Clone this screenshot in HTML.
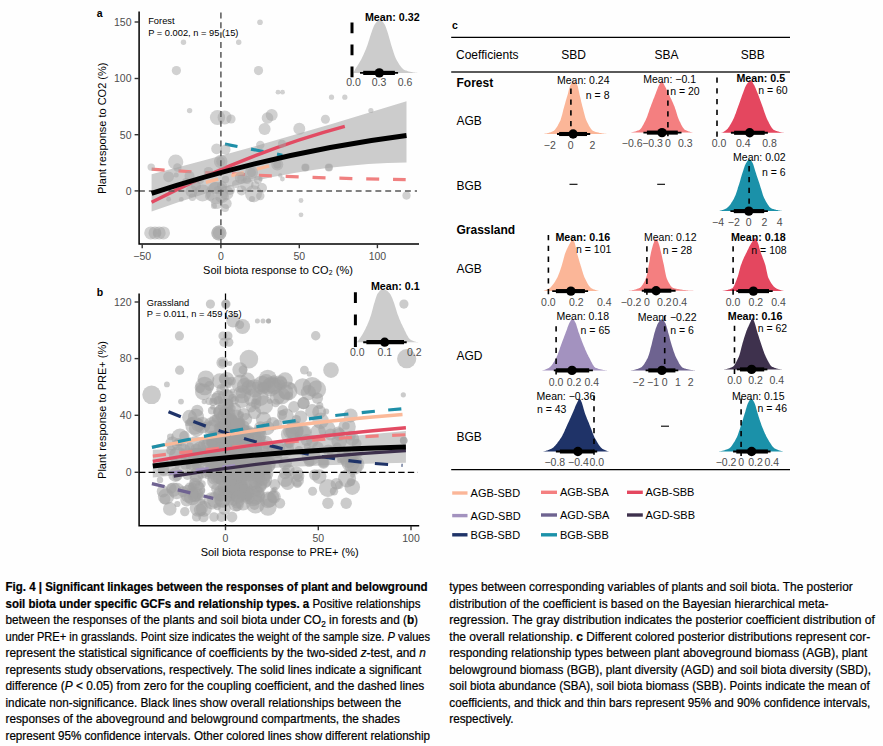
<!DOCTYPE html>
<html><head><meta charset="utf-8"><title>Fig. 4</title>
<style>
html,body{margin:0;padding:0;background:#fff;}
body{width:883px;height:746px;overflow:hidden;font-family:"Liberation Sans", sans-serif;}
svg{display:block;}
text{font-family:"Liberation Sans", sans-serif;}
.tk{font-size:10.5px;fill:#4d4d4d;}
.ax{font-size:11px;fill:#000;}
.an{font-size:9.3px;fill:#000;}
.pl{font-size:10.5px;font-weight:bold;fill:#000;}
.mn{font-size:10.5px;fill:#000;}
.mb{font-size:10.7px;fill:#000;font-weight:bold;}
.row{font-size:12px;fill:#000;}
.rowb{font-size:12px;fill:#000;font-weight:bold;}
.lg{font-size:11px;fill:#000;}
</style></head><body>
<svg width="883" height="746" viewBox="0 0 883 746">
<rect x="0" y="0" width="883" height="746" fill="#fefefe"/>

<g id="panelA">
<path d="M151.6,174.3 Q279,141.1 406.5,101.3 L406.5,162.4 Q279,164.3 151.6,211.6 Z" fill="#cccccc"/>
<path d="M151.6,169.2 Q279,177.8 405.7,179.6" fill="none" stroke="#F08080" stroke-width="3.2" stroke-dasharray="13 13.85"/>
<path d="M205.9,182.3 L270.4,165.7" fill="none" stroke="#FBB999" stroke-width="3.3" stroke-dasharray="12.7 13.6"/>
<path d="M225,144.1 L282.4,155.2" fill="none" stroke="#1E8FA8" stroke-width="3.2" stroke-dasharray="12.7 13.8"/>
<path d="M151.6,202.3 Q248.2,152.4 344.8,126.4" fill="none" stroke="#E24B63" stroke-width="3.4"/>
<g fill="#a4a4a4" fill-opacity="0.5">
<circle cx="260.0" cy="22.2" r="2.8"/>
<circle cx="183.5" cy="42.3" r="2.7"/>
<circle cx="238.7" cy="42.3" r="2.7"/>
<circle cx="176.4" cy="70.6" r="4.6"/>
<circle cx="258.5" cy="70.6" r="4.6"/>
<circle cx="278.0" cy="92.2" r="2.4"/>
<circle cx="282.5" cy="92.2" r="2.4"/>
<circle cx="189.6" cy="110.6" r="2.7"/>
<circle cx="217.5" cy="117.5" r="7.6"/>
<circle cx="224.6" cy="117.5" r="7.0"/>
<circle cx="231.0" cy="119.0" r="4.6"/>
<circle cx="271.7" cy="115.0" r="6.0"/>
<circle cx="267.5" cy="118.0" r="5.8"/>
<circle cx="264.6" cy="129.0" r="6.0"/>
<circle cx="299.3" cy="128.8" r="6.0"/>
<circle cx="325.4" cy="119.2" r="4.5"/>
<circle cx="331.5" cy="97.2" r="2.6"/>
<circle cx="344.8" cy="97.2" r="2.6"/>
<circle cx="370.9" cy="110.5" r="2.6"/>
<circle cx="151.2" cy="167.1" r="3.7"/>
<circle cx="175.7" cy="162.0" r="7.6"/>
<circle cx="177.4" cy="167.5" r="4.2"/>
<circle cx="168.6" cy="176.8" r="5.4"/>
<circle cx="176.2" cy="175.1" r="2.5"/>
<circle cx="189.5" cy="176.0" r="5.0"/>
<circle cx="216.6" cy="148.8" r="5.4"/>
<circle cx="225.5" cy="149.6" r="5.0"/>
<circle cx="220.7" cy="161.5" r="6.8"/>
<circle cx="220.7" cy="161.5" r="4.5"/>
<circle cx="208.5" cy="171.7" r="4.8"/>
<circle cx="260.3" cy="145.0" r="4.2"/>
<circle cx="282.0" cy="143.7" r="4.0"/>
<circle cx="277.3" cy="164.4" r="6.0"/>
<circle cx="277.3" cy="164.4" r="4.0"/>
<circle cx="251.5" cy="172.6" r="6.5"/>
<circle cx="251.5" cy="172.6" r="4.5"/>
<circle cx="240.8" cy="177.7" r="6.0"/>
<circle cx="240.8" cy="178.0" r="3.5"/>
<circle cx="260.6" cy="179.0" r="2.2"/>
<circle cx="280.3" cy="175.4" r="2.2"/>
<circle cx="282.4" cy="179.0" r="2.4"/>
<circle cx="225.5" cy="179.4" r="3.7"/>
<circle cx="305.4" cy="167.5" r="4.1"/>
<circle cx="305.4" cy="167.5" r="3.5"/>
<circle cx="328.9" cy="167.5" r="4.1"/>
<circle cx="328.9" cy="167.5" r="3.5"/>
<circle cx="301.0" cy="200.5" r="2.4"/>
<circle cx="301.0" cy="214.8" r="2.4"/>
<circle cx="406.5" cy="195.6" r="4.1"/>
<circle cx="217.0" cy="193.0" r="11.0"/>
<circle cx="226.5" cy="193.0" r="7.0"/>
<circle cx="202.5" cy="193.0" r="8.5"/>
<circle cx="191.5" cy="191.2" r="6.0"/>
<circle cx="192.4" cy="197.2" r="3.7"/>
<circle cx="181.3" cy="199.4" r="2.4"/>
<circle cx="168.6" cy="199.2" r="2.4"/>
<circle cx="217.0" cy="203.1" r="6.0"/>
<circle cx="226.3" cy="203.5" r="5.4"/>
<circle cx="246.7" cy="184.5" r="6.8"/>
<circle cx="253.5" cy="193.8" r="8.5"/>
<circle cx="241.6" cy="190.4" r="5.0"/>
<circle cx="260.3" cy="196.0" r="4.2"/>
<circle cx="255.2" cy="185.3" r="4.2"/>
<circle cx="215.0" cy="188.0" r="6.0"/>
<circle cx="222.0" cy="196.0" r="7.0"/>
<circle cx="210.0" cy="196.0" r="5.0"/>
<circle cx="218.0" cy="190.0" r="4.0"/>
<circle cx="222.0" cy="186.0" r="5.0"/>
<circle cx="230.0" cy="190.0" r="5.0"/>
<circle cx="247.0" cy="180.0" r="4.0"/>
<circle cx="236.0" cy="184.0" r="4.0"/>
<circle cx="262.0" cy="188.0" r="5.0"/>
<circle cx="252.0" cy="199.0" r="3.0"/>
<circle cx="258.0" cy="180.0" r="4.0"/>
<circle cx="196.0" cy="186.0" r="5.0"/>
<circle cx="200.0" cy="180.0" r="4.0"/>
<circle cx="186.0" cy="182.0" r="4.0"/>
<circle cx="225.0" cy="208.0" r="4.0"/>
<circle cx="214.0" cy="206.0" r="3.0"/>
<circle cx="150.7" cy="232.9" r="6.5"/>
<circle cx="155.0" cy="232.9" r="6.5"/>
<circle cx="159.2" cy="232.9" r="6.5"/>
<circle cx="163.5" cy="232.9" r="6.5"/>
<circle cx="157.0" cy="232.9" r="4.0"/>
<circle cx="218.9" cy="233.0" r="7.6"/>
<circle cx="218.9" cy="233.0" r="7.6"/>
<circle cx="218.9" cy="233.0" r="6.0"/>
</g>
<path d="M139,190.9 H417" stroke="#585858" stroke-width="1.5" stroke-dasharray="5.9 3.95" fill="none"/>
<path d="M220.9,12.5 V243.5" stroke="#585858" stroke-width="1.5" stroke-dasharray="5.9 3.95" fill="none"/>
<path d="M151.6,193.3 Q279,151.8 406.5,135.5" fill="none" stroke="#000" stroke-width="5"/>
<path d="M139.1,11.5 V243.9 H419" fill="none" stroke="#000" stroke-width="1.5"/>
<path d="M134.6,22 H139" stroke="#333" stroke-width="1.4"/>
<text x="131.5" y="25.8" class="tk" text-anchor="end" >150</text>
<path d="M134.6,78.5 H139" stroke="#333" stroke-width="1.4"/>
<text x="131.5" y="82.3" class="tk" text-anchor="end" >100</text>
<path d="M134.6,134.7 H139" stroke="#333" stroke-width="1.4"/>
<text x="131.5" y="138.5" class="tk" text-anchor="end" >50</text>
<path d="M134.6,190.9 H139" stroke="#333" stroke-width="1.4"/>
<text x="131.5" y="194.7" class="tk" text-anchor="end" >0</text>
<path d="M142.2,244 V248.2" stroke="#333" stroke-width="1.4"/>
<text x="142.2" y="260.0" class="tk" text-anchor="middle" >−50</text>
<path d="M220.9,244 V248.2" stroke="#333" stroke-width="1.4"/>
<text x="220.9" y="260.0" class="tk" text-anchor="middle" >0</text>
<path d="M299.3,244 V248.2" stroke="#333" stroke-width="1.4"/>
<text x="299.3" y="260.0" class="tk" text-anchor="middle" >50</text>
<path d="M377.4,244 V248.2" stroke="#333" stroke-width="1.4"/>
<text x="377.4" y="260.0" class="tk" text-anchor="middle" >100</text>
<text x="278.0" y="274.2" class="ax" text-anchor="middle" >Soil biota response to CO₂ (%)</text>
<text class="ax" text-anchor="middle" transform="translate(106,128.3) rotate(-90)">Plant response to CO2 (%)</text>
<text x="148.2" y="24.2" class="an" text-anchor="start" >Forest</text>
<text x="148.2" y="35.6" class="an" text-anchor="start" >P = 0.002, n = 95 (15)</text>
<text x="96.8" y="17.4" class="pl" text-anchor="start" >a</text>
</g>
<g id="insetA">
<path d="M353.4,72.9 L353.4,72.9 L354.0,71.6 L354.6,70.4 L355.2,69.3 L355.8,68.3 L356.4,67.3 L357.0,66.4 L357.6,65.4 L358.2,64.5 L358.8,63.6 L359.4,62.6 L360.0,61.6 L360.6,60.5 L361.2,59.4 L361.8,58.2 L362.4,57.0 L363.0,55.8 L363.6,54.5 L364.2,53.1 L364.8,51.8 L365.4,50.3 L366.0,48.9 L366.6,47.3 L367.2,45.8 L367.8,44.0 L368.4,42.1 L369.0,40.2 L369.6,38.2 L370.2,36.3 L370.8,34.4 L371.4,32.7 L372.0,31.0 L372.6,29.3 L373.2,27.7 L373.8,26.2 L374.4,24.9 L375.0,24.0 L375.6,23.2 L376.2,22.5 L376.8,21.8 L377.4,21.1 L378.0,20.6 L378.6,20.2 L379.2,19.9 L379.8,19.8 L380.4,19.9 L381.0,20.2 L381.6,20.6 L382.2,21.2 L382.8,21.9 L383.4,22.6 L384.0,23.5 L384.6,24.3 L385.2,25.5 L385.8,27.0 L386.4,28.7 L387.0,30.5 L387.6,32.3 L388.2,34.2 L388.8,36.2 L389.4,38.4 L390.0,40.6 L390.6,42.8 L391.2,44.9 L391.8,46.8 L392.4,48.7 L393.0,50.6 L393.6,52.5 L394.2,54.3 L394.8,55.9 L395.4,57.5 L396.0,58.8 L396.6,59.9 L397.2,61.0 L397.8,62.0 L398.4,63.0 L399.0,64.0 L399.6,64.9 L400.2,65.7 L400.8,66.6 L401.4,67.3 L402.0,68.0 L402.6,68.6 L403.2,69.2 L403.8,69.6 L404.4,70.0 L405.0,70.2 L405.6,70.4 L406.2,70.6 L406.8,70.8 L407.4,71.0 L408.0,71.2 L408.6,71.4 L409.2,71.5 L409.8,71.7 L410.4,71.8 L411.0,72.0 L411.6,72.1 L412.2,72.2 L412.8,72.3 L413.4,72.5 L414.0,72.5 L414.6,72.6 L415.2,72.7 L415.8,72.8 L416.4,72.8 L417.0,72.8 L417.6,72.9 L418.2,72.9 L418.9,72.9 Z" fill="#cccccc"/>
<path d="M352,22.5 V77.7" stroke="#000" stroke-width="3" stroke-dasharray="10.7 11.3" fill="none"/>
<path d="M360,72.9 H398.1" stroke="#000" stroke-width="1.9"/>
<path d="M363.2,72.9 H394.9" stroke="#000" stroke-width="4.2"/>
<circle cx="379.3" cy="72.9" r="4.7" fill="#000"/>
<text x="353.6" y="86.0" class="tk" text-anchor="middle" >0.0</text>
<text x="379.1" y="86.0" class="tk" text-anchor="middle" >0.3</text>
<text x="405.0" y="86.0" class="tk" text-anchor="middle" >0.6</text>
<text x="419.6" y="21.2" class="mb" text-anchor="end" >Mean: 0.32</text>
</g>
<g id="panelB">
<path d="M152.8,449.7 Q225,448 405.9,431 L405.9,462.8 Q260,466 152.8,477.5 Z" fill="#cdcdcd"/>
<g fill="#a0a0a0" fill-opacity="0.55">
<circle cx="403.9" cy="304.1" r="4.6"/>
<circle cx="210.4" cy="304.1" r="4.6"/>
<circle cx="225.8" cy="304.1" r="4.8"/>
<circle cx="225.8" cy="304.1" r="4.0"/>
<circle cx="233.1" cy="320.6" r="6.8"/>
<circle cx="242.5" cy="326.5" r="7.6"/>
<circle cx="240.0" cy="324.8" r="4.2"/>
<circle cx="257.4" cy="321.1" r="2.5"/>
<circle cx="263.0" cy="321.1" r="2.5"/>
<circle cx="268.5" cy="321.1" r="2.5"/>
<circle cx="268.5" cy="321.1" r="2.5"/>
<circle cx="179.4" cy="335.9" r="4.6"/>
<circle cx="222.9" cy="335.9" r="4.5"/>
<circle cx="228.0" cy="335.9" r="4.5"/>
<circle cx="223.8" cy="342.3" r="4.5"/>
<circle cx="228.9" cy="342.3" r="4.5"/>
<circle cx="248.9" cy="359.1" r="9.3"/>
<circle cx="222.4" cy="362.7" r="6.0"/>
<circle cx="222.4" cy="362.7" r="4.0"/>
<circle cx="229.7" cy="363.4" r="2.5"/>
<circle cx="179.6" cy="370.2" r="4.6"/>
<circle cx="239.9" cy="369.8" r="7.6"/>
<circle cx="243.0" cy="369.8" r="4.4"/>
<circle cx="166.9" cy="384.4" r="2.9"/>
<circle cx="151.6" cy="394.8" r="9.3"/>
<circle cx="181.0" cy="401.6" r="2.9"/>
<circle cx="204.6" cy="386.0" r="9.3"/>
<circle cx="209.3" cy="386.0" r="5.0"/>
<circle cx="262.0" cy="385.1" r="9.3"/>
<circle cx="262.0" cy="387.0" r="5.0"/>
<circle cx="273.9" cy="386.0" r="8.5"/>
<circle cx="280.7" cy="383.4" r="6.8"/>
<circle cx="280.7" cy="383.4" r="4.0"/>
<circle cx="285.8" cy="392.0" r="7.6"/>
<circle cx="204.2" cy="401.6" r="2.6"/>
<circle cx="216.1" cy="398.7" r="6.0"/>
<circle cx="254.4" cy="401.3" r="3.0"/>
<circle cx="269.7" cy="401.3" r="2.6"/>
<circle cx="275.6" cy="403.0" r="4.3"/>
<circle cx="315.7" cy="335.7" r="4.7"/>
<circle cx="406.7" cy="358.7" r="9.6"/>
<circle cx="331.0" cy="370.1" r="7.8"/>
<circle cx="304.4" cy="370.1" r="4.4"/>
<circle cx="309.3" cy="373.9" r="2.6"/>
<circle cx="302.6" cy="387.0" r="8.7"/>
<circle cx="312.2" cy="386.6" r="9.6"/>
<circle cx="287.8" cy="391.0" r="9.6"/>
<circle cx="288.7" cy="395.9" r="4.4"/>
<circle cx="280.0" cy="382.3" r="7.0"/>
<circle cx="403.3" cy="394.8" r="2.6"/>
<circle cx="303.5" cy="403.2" r="6.1"/>
<circle cx="303.5" cy="403.2" r="6.1"/>
<circle cx="312.2" cy="411.0" r="7.0"/>
<circle cx="319.2" cy="411.9" r="7.0"/>
<circle cx="326.2" cy="411.5" r="3.0"/>
<circle cx="286.1" cy="416.2" r="7.8"/>
<circle cx="350.6" cy="415.4" r="7.0"/>
<circle cx="327.0" cy="429.3" r="8.7"/>
<circle cx="330.5" cy="434.5" r="6.1"/>
<circle cx="347.1" cy="426.7" r="8.7"/>
<circle cx="302.6" cy="432.8" r="7.8"/>
<circle cx="290.5" cy="434.5" r="9.6"/>
<circle cx="339.2" cy="441.5" r="7.8"/>
<circle cx="352.3" cy="438.9" r="7.0"/>
<circle cx="403.7" cy="440.6" r="3.8"/>
<circle cx="403.7" cy="440.6" r="3.8"/>
<circle cx="323.6" cy="462.7" r="6.0"/>
<circle cx="323.6" cy="462.7" r="5.0"/>
<circle cx="309.3" cy="461.8" r="5.2"/>
<circle cx="355.4" cy="464.4" r="9.0"/>
<circle cx="319.2" cy="476.6" r="7.3"/>
<circle cx="327.9" cy="487.9" r="9.0"/>
<circle cx="347.1" cy="478.4" r="9.0"/>
<circle cx="352.3" cy="487.1" r="7.8"/>
<circle cx="351.0" cy="482.0" r="4.0"/>
<circle cx="297.4" cy="483.6" r="4.4"/>
<circle cx="285.2" cy="479.2" r="7.8"/>
<circle cx="327.9" cy="503.3" r="5.7"/>
<circle cx="346.2" cy="503.3" r="5.7"/>
<circle cx="280.0" cy="503.3" r="5.2"/>
<circle cx="227.1" cy="464.4" r="4.2"/>
<circle cx="214.3" cy="439.7" r="3.2"/>
<circle cx="251.7" cy="455.5" r="2.5"/>
<circle cx="200.3" cy="476.1" r="2.8"/>
<circle cx="199.9" cy="387.7" r="5.2"/>
<circle cx="237.8" cy="445.4" r="7.8"/>
<circle cx="237.9" cy="460.4" r="6.4"/>
<circle cx="242.6" cy="487.7" r="5.1"/>
<circle cx="225.5" cy="443.4" r="2.7"/>
<circle cx="223.5" cy="414.5" r="5.8"/>
<circle cx="216.6" cy="455.3" r="8.8"/>
<circle cx="232.9" cy="491.4" r="6.6"/>
<circle cx="230.0" cy="419.2" r="7.3"/>
<circle cx="204.2" cy="475.1" r="3.2"/>
<circle cx="259.4" cy="459.3" r="8.5"/>
<circle cx="243.7" cy="426.2" r="5.8"/>
<circle cx="213.6" cy="428.9" r="9.5"/>
<circle cx="204.3" cy="455.1" r="3.5"/>
<circle cx="238.8" cy="422.0" r="6.0"/>
<circle cx="252.9" cy="452.3" r="2.6"/>
<circle cx="262.3" cy="468.0" r="2.8"/>
<circle cx="202.2" cy="490.6" r="3.1"/>
<circle cx="194.5" cy="425.5" r="9.2"/>
<circle cx="228.5" cy="481.7" r="6.7"/>
<circle cx="242.5" cy="441.9" r="2.8"/>
<circle cx="234.3" cy="486.0" r="4.8"/>
<circle cx="251.8" cy="447.9" r="5.7"/>
<circle cx="259.8" cy="431.9" r="5.9"/>
<circle cx="229.2" cy="436.9" r="9.0"/>
<circle cx="256.0" cy="403.9" r="5.2"/>
<circle cx="253.4" cy="476.2" r="2.5"/>
<circle cx="234.9" cy="466.6" r="4.2"/>
<circle cx="242.9" cy="447.0" r="3.0"/>
<circle cx="270.2" cy="458.0" r="4.4"/>
<circle cx="231.8" cy="478.4" r="4.4"/>
<circle cx="210.6" cy="455.3" r="2.6"/>
<circle cx="223.8" cy="469.3" r="7.4"/>
<circle cx="278.2" cy="459.1" r="4.4"/>
<circle cx="227.7" cy="444.9" r="6.9"/>
<circle cx="251.2" cy="407.3" r="5.1"/>
<circle cx="248.3" cy="497.7" r="6.3"/>
<circle cx="225.5" cy="468.2" r="9.6"/>
<circle cx="252.7" cy="397.8" r="8.9"/>
<circle cx="235.3" cy="487.6" r="4.1"/>
<circle cx="247.1" cy="451.8" r="6.1"/>
<circle cx="251.9" cy="437.0" r="9.6"/>
<circle cx="249.4" cy="438.0" r="4.7"/>
<circle cx="236.2" cy="468.7" r="6.7"/>
<circle cx="243.7" cy="414.3" r="6.4"/>
<circle cx="256.1" cy="472.4" r="9.0"/>
<circle cx="232.0" cy="408.2" r="3.7"/>
<circle cx="215.1" cy="500.1" r="8.0"/>
<circle cx="194.5" cy="494.8" r="7.4"/>
<circle cx="239.6" cy="460.9" r="9.1"/>
<circle cx="253.6" cy="497.6" r="8.7"/>
<circle cx="217.9" cy="481.6" r="2.4"/>
<circle cx="259.1" cy="438.0" r="6.8"/>
<circle cx="196.8" cy="474.8" r="7.5"/>
<circle cx="231.8" cy="475.3" r="5.8"/>
<circle cx="230.8" cy="482.4" r="3.9"/>
<circle cx="219.2" cy="476.9" r="6.7"/>
<circle cx="194.7" cy="483.3" r="5.6"/>
<circle cx="228.3" cy="446.0" r="4.5"/>
<circle cx="266.0" cy="448.5" r="3.2"/>
<circle cx="228.2" cy="404.2" r="5.6"/>
<circle cx="200.7" cy="426.7" r="3.3"/>
<circle cx="232.1" cy="474.4" r="8.3"/>
<circle cx="202.3" cy="425.3" r="8.2"/>
<circle cx="214.9" cy="420.8" r="6.1"/>
<circle cx="209.6" cy="459.4" r="6.8"/>
<circle cx="219.8" cy="381.0" r="7.7"/>
<circle cx="189.6" cy="417.2" r="7.4"/>
<circle cx="246.8" cy="472.4" r="2.8"/>
<circle cx="257.3" cy="469.4" r="9.3"/>
<circle cx="249.0" cy="491.5" r="4.4"/>
<circle cx="268.9" cy="387.2" r="6.9"/>
<circle cx="214.4" cy="470.4" r="9.2"/>
<circle cx="242.7" cy="477.7" r="5.0"/>
<circle cx="237.6" cy="475.1" r="7.1"/>
<circle cx="212.7" cy="434.8" r="2.9"/>
<circle cx="215.8" cy="418.4" r="4.0"/>
<circle cx="243.8" cy="463.3" r="3.6"/>
<circle cx="230.7" cy="464.8" r="6.7"/>
<circle cx="238.2" cy="423.1" r="3.9"/>
<circle cx="205.4" cy="424.3" r="2.5"/>
<circle cx="224.4" cy="413.9" r="3.9"/>
<circle cx="209.3" cy="401.3" r="3.8"/>
<circle cx="266.6" cy="474.5" r="5.0"/>
<circle cx="191.0" cy="421.6" r="4.4"/>
<circle cx="218.2" cy="442.8" r="2.7"/>
<circle cx="244.1" cy="454.1" r="4.9"/>
<circle cx="232.9" cy="418.9" r="4.5"/>
<circle cx="229.9" cy="452.3" r="4.0"/>
<circle cx="229.4" cy="404.2" r="3.2"/>
<circle cx="240.3" cy="440.6" r="8.1"/>
<circle cx="196.0" cy="449.0" r="5.5"/>
<circle cx="212.2" cy="500.7" r="8.7"/>
<circle cx="217.5" cy="464.7" r="2.6"/>
<circle cx="260.2" cy="471.0" r="4.5"/>
<circle cx="263.4" cy="480.0" r="8.7"/>
<circle cx="229.2" cy="471.8" r="5.4"/>
<circle cx="243.3" cy="477.9" r="6.9"/>
<circle cx="255.6" cy="439.7" r="6.9"/>
<circle cx="225.5" cy="476.7" r="3.0"/>
<circle cx="209.8" cy="453.4" r="5.5"/>
<circle cx="246.9" cy="447.8" r="3.0"/>
<circle cx="235.9" cy="448.9" r="4.7"/>
<circle cx="212.0" cy="425.6" r="8.7"/>
<circle cx="223.7" cy="378.7" r="5.0"/>
<circle cx="242.8" cy="445.1" r="8.7"/>
<circle cx="266.7" cy="464.5" r="8.6"/>
<circle cx="228.5" cy="385.1" r="3.2"/>
<circle cx="195.9" cy="445.2" r="9.1"/>
<circle cx="197.3" cy="410.8" r="6.1"/>
<circle cx="232.6" cy="455.5" r="3.0"/>
<circle cx="260.6" cy="486.6" r="5.9"/>
<circle cx="211.9" cy="410.4" r="4.0"/>
<circle cx="241.3" cy="393.0" r="5.6"/>
<circle cx="228.2" cy="436.4" r="7.7"/>
<circle cx="245.3" cy="459.0" r="7.5"/>
<circle cx="213.4" cy="448.3" r="6.1"/>
<circle cx="234.8" cy="400.2" r="4.2"/>
<circle cx="240.7" cy="467.8" r="7.8"/>
<circle cx="229.3" cy="444.8" r="2.8"/>
<circle cx="218.3" cy="401.0" r="4.9"/>
<circle cx="210.9" cy="443.1" r="4.4"/>
<circle cx="241.9" cy="433.0" r="9.4"/>
<circle cx="252.9" cy="451.1" r="9.5"/>
<circle cx="217.7" cy="455.4" r="6.8"/>
<circle cx="238.1" cy="490.5" r="3.2"/>
<circle cx="241.7" cy="441.7" r="8.3"/>
<circle cx="254.4" cy="412.4" r="6.7"/>
<circle cx="227.8" cy="447.7" r="3.2"/>
<circle cx="216.7" cy="455.8" r="3.0"/>
<circle cx="217.3" cy="506.6" r="3.6"/>
<circle cx="237.1" cy="432.4" r="8.9"/>
<circle cx="244.8" cy="430.7" r="5.2"/>
<circle cx="257.3" cy="446.7" r="5.3"/>
<circle cx="231.1" cy="457.6" r="3.7"/>
<circle cx="232.1" cy="473.7" r="4.6"/>
<circle cx="198.8" cy="507.7" r="9.1"/>
<circle cx="203.4" cy="391.9" r="8.4"/>
<circle cx="230.8" cy="436.4" r="8.2"/>
<circle cx="232.5" cy="398.1" r="4.1"/>
<circle cx="240.9" cy="439.1" r="5.0"/>
<circle cx="222.8" cy="500.2" r="7.7"/>
<circle cx="223.0" cy="423.1" r="5.2"/>
<circle cx="237.6" cy="464.5" r="6.7"/>
<circle cx="218.6" cy="447.4" r="9.6"/>
<circle cx="222.1" cy="452.8" r="2.5"/>
<circle cx="227.5" cy="459.4" r="4.8"/>
<circle cx="196.0" cy="416.9" r="8.1"/>
<circle cx="212.2" cy="468.3" r="5.0"/>
<circle cx="246.2" cy="457.4" r="7.3"/>
<circle cx="205.2" cy="446.0" r="7.6"/>
<circle cx="230.1" cy="472.5" r="5.3"/>
<circle cx="267.4" cy="428.1" r="7.1"/>
<circle cx="261.3" cy="457.8" r="8.2"/>
<circle cx="231.7" cy="446.7" r="6.8"/>
<circle cx="249.1" cy="387.5" r="7.6"/>
<circle cx="240.5" cy="459.5" r="6.0"/>
<circle cx="260.4" cy="427.5" r="6.3"/>
<circle cx="208.8" cy="458.4" r="3.7"/>
<circle cx="222.1" cy="424.1" r="2.8"/>
<circle cx="212.7" cy="407.2" r="2.5"/>
<circle cx="207.2" cy="440.1" r="4.7"/>
<circle cx="229.8" cy="444.1" r="5.4"/>
<circle cx="258.4" cy="434.5" r="8.2"/>
<circle cx="233.4" cy="472.5" r="8.8"/>
<circle cx="230.6" cy="453.7" r="6.0"/>
<circle cx="219.2" cy="459.6" r="6.8"/>
<circle cx="232.7" cy="455.9" r="5.3"/>
<circle cx="226.8" cy="426.4" r="8.9"/>
<circle cx="219.1" cy="446.3" r="7.8"/>
<circle cx="237.9" cy="424.7" r="6.3"/>
<circle cx="219.8" cy="447.6" r="5.3"/>
<circle cx="243.5" cy="474.0" r="6.9"/>
<circle cx="235.9" cy="455.6" r="3.0"/>
<circle cx="263.6" cy="404.9" r="9.6"/>
<circle cx="247.4" cy="434.3" r="3.9"/>
<circle cx="231.9" cy="438.3" r="5.1"/>
<circle cx="220.0" cy="468.7" r="2.4"/>
<circle cx="228.7" cy="478.1" r="7.3"/>
<circle cx="244.6" cy="441.8" r="6.5"/>
<circle cx="240.8" cy="414.5" r="3.2"/>
<circle cx="202.3" cy="501.7" r="3.0"/>
<circle cx="235.8" cy="441.9" r="6.4"/>
<circle cx="232.6" cy="437.3" r="2.5"/>
<circle cx="244.8" cy="434.4" r="9.3"/>
<circle cx="224.0" cy="470.0" r="8.6"/>
<circle cx="229.7" cy="500.8" r="4.8"/>
<circle cx="263.9" cy="448.4" r="8.6"/>
<circle cx="235.9" cy="444.4" r="5.4"/>
<circle cx="277.4" cy="424.4" r="4.8"/>
<circle cx="212.0" cy="463.9" r="7.5"/>
<circle cx="242.1" cy="394.3" r="9.0"/>
<circle cx="218.8" cy="428.1" r="5.1"/>
<circle cx="233.6" cy="433.5" r="3.6"/>
<circle cx="232.1" cy="459.4" r="3.3"/>
<circle cx="274.0" cy="379.5" r="4.3"/>
<circle cx="250.3" cy="469.7" r="8.2"/>
<circle cx="234.0" cy="482.1" r="6.0"/>
<circle cx="231.5" cy="381.1" r="4.4"/>
<circle cx="240.6" cy="423.1" r="5.1"/>
<circle cx="231.1" cy="424.4" r="4.7"/>
<circle cx="254.5" cy="505.0" r="5.0"/>
<circle cx="184.8" cy="511.6" r="4.7"/>
<circle cx="241.9" cy="400.8" r="7.3"/>
<circle cx="197.3" cy="456.9" r="9.4"/>
<circle cx="247.3" cy="454.1" r="2.7"/>
<circle cx="256.8" cy="439.4" r="8.0"/>
<circle cx="245.8" cy="419.3" r="6.3"/>
<circle cx="240.5" cy="441.6" r="5.9"/>
<circle cx="235.7" cy="478.9" r="2.7"/>
<circle cx="231.2" cy="493.0" r="4.6"/>
<circle cx="248.9" cy="449.2" r="4.6"/>
<circle cx="227.1" cy="468.2" r="8.4"/>
<circle cx="240.1" cy="453.1" r="5.7"/>
<circle cx="226.7" cy="435.6" r="3.5"/>
<circle cx="218.9" cy="461.9" r="6.9"/>
<circle cx="222.6" cy="487.6" r="5.2"/>
<circle cx="223.7" cy="464.0" r="7.5"/>
<circle cx="272.9" cy="449.7" r="6.5"/>
<circle cx="199.3" cy="486.1" r="4.5"/>
<circle cx="256.0" cy="451.0" r="6.7"/>
<circle cx="254.5" cy="472.2" r="5.5"/>
<circle cx="241.4" cy="469.0" r="6.8"/>
<circle cx="249.1" cy="471.9" r="9.5"/>
<circle cx="235.2" cy="463.7" r="9.5"/>
<circle cx="225.7" cy="448.2" r="8.0"/>
<circle cx="234.0" cy="410.1" r="7.4"/>
<circle cx="227.1" cy="413.7" r="6.5"/>
<circle cx="228.1" cy="418.8" r="5.2"/>
<circle cx="219.2" cy="435.8" r="2.8"/>
<circle cx="234.7" cy="452.5" r="7.1"/>
<circle cx="227.8" cy="423.8" r="5.7"/>
<circle cx="221.8" cy="416.7" r="5.7"/>
<circle cx="216.8" cy="465.1" r="5.3"/>
<circle cx="235.6" cy="447.7" r="4.7"/>
<circle cx="221.7" cy="446.2" r="4.3"/>
<circle cx="231.1" cy="469.1" r="3.1"/>
<circle cx="224.0" cy="439.3" r="4.2"/>
<circle cx="223.7" cy="439.1" r="5.1"/>
<circle cx="229.6" cy="433.8" r="9.6"/>
<circle cx="208.5" cy="444.9" r="7.4"/>
<circle cx="232.0" cy="454.1" r="7.4"/>
<circle cx="230.5" cy="421.6" r="7.4"/>
<circle cx="210.3" cy="438.8" r="4.8"/>
<circle cx="219.9" cy="438.7" r="2.7"/>
<circle cx="232.0" cy="498.1" r="3.2"/>
<circle cx="221.7" cy="412.9" r="8.4"/>
<circle cx="213.3" cy="402.1" r="4.0"/>
<circle cx="221.2" cy="412.3" r="7.7"/>
<circle cx="235.2" cy="437.0" r="6.3"/>
<circle cx="221.9" cy="448.4" r="7.1"/>
<circle cx="228.3" cy="413.7" r="7.0"/>
<circle cx="217.1" cy="411.2" r="4.0"/>
<circle cx="229.9" cy="444.6" r="5.3"/>
<circle cx="211.2" cy="433.6" r="2.8"/>
<circle cx="225.2" cy="433.4" r="3.0"/>
<circle cx="231.2" cy="462.1" r="5.8"/>
<circle cx="222.0" cy="426.4" r="5.4"/>
<circle cx="236.9" cy="506.9" r="4.4"/>
<circle cx="234.2" cy="470.7" r="9.0"/>
<circle cx="221.5" cy="457.2" r="3.4"/>
<circle cx="220.0" cy="426.5" r="5.3"/>
<circle cx="236.5" cy="416.2" r="6.7"/>
<circle cx="234.3" cy="452.8" r="4.7"/>
<circle cx="237.4" cy="463.7" r="3.3"/>
<circle cx="229.6" cy="432.4" r="3.4"/>
<circle cx="216.0" cy="437.6" r="7.5"/>
<circle cx="223.8" cy="469.9" r="3.8"/>
<circle cx="228.3" cy="381.0" r="3.8"/>
<circle cx="225.8" cy="397.5" r="8.2"/>
<circle cx="226.5" cy="457.7" r="4.1"/>
<circle cx="220.0" cy="494.3" r="6.5"/>
<circle cx="224.7" cy="411.0" r="5.3"/>
<circle cx="228.0" cy="395.1" r="5.9"/>
<circle cx="230.8" cy="434.2" r="7.0"/>
<circle cx="225.7" cy="467.8" r="9.5"/>
<circle cx="225.8" cy="406.2" r="7.9"/>
<circle cx="218.7" cy="397.3" r="6.9"/>
<circle cx="212.9" cy="453.9" r="6.6"/>
<circle cx="215.6" cy="463.5" r="4.9"/>
<circle cx="228.3" cy="491.5" r="3.9"/>
<circle cx="227.0" cy="447.0" r="3.9"/>
<circle cx="223.8" cy="457.4" r="2.5"/>
<circle cx="222.5" cy="389.6" r="6.2"/>
<circle cx="234.6" cy="460.4" r="6.5"/>
<circle cx="238.9" cy="470.8" r="9.5"/>
<circle cx="192.4" cy="486.5" r="2.5"/>
<circle cx="199.7" cy="448.1" r="6.5"/>
<circle cx="177.2" cy="465.9" r="2.6"/>
<circle cx="185.4" cy="464.5" r="5.3"/>
<circle cx="195.7" cy="480.0" r="6.1"/>
<circle cx="176.7" cy="491.0" r="8.3"/>
<circle cx="196.6" cy="455.7" r="3.1"/>
<circle cx="162.8" cy="491.4" r="6.1"/>
<circle cx="175.5" cy="474.7" r="7.2"/>
<circle cx="188.6" cy="466.9" r="2.7"/>
<circle cx="188.0" cy="422.9" r="3.2"/>
<circle cx="160.0" cy="479.9" r="3.2"/>
<circle cx="169.8" cy="508.9" r="6.8"/>
<circle cx="183.0" cy="491.6" r="5.5"/>
<circle cx="200.4" cy="496.1" r="3.7"/>
<circle cx="177.0" cy="444.8" r="5.1"/>
<circle cx="173.6" cy="489.6" r="7.2"/>
<circle cx="187.4" cy="475.1" r="4.8"/>
<circle cx="198.4" cy="464.3" r="6.7"/>
<circle cx="186.6" cy="500.1" r="6.3"/>
<circle cx="185.4" cy="449.2" r="5.0"/>
<circle cx="200.1" cy="509.9" r="6.2"/>
<circle cx="192.3" cy="496.8" r="8.5"/>
<circle cx="195.9" cy="493.9" r="7.6"/>
<circle cx="189.3" cy="493.8" r="9.2"/>
<circle cx="189.6" cy="487.6" r="5.0"/>
<circle cx="176.8" cy="476.4" r="4.6"/>
<circle cx="207.3" cy="473.0" r="3.9"/>
<circle cx="196.1" cy="489.7" r="9.1"/>
<circle cx="183.4" cy="456.7" r="3.4"/>
<circle cx="192.5" cy="486.5" r="4.1"/>
<circle cx="165.0" cy="499.0" r="5.5"/>
<circle cx="174.5" cy="461.5" r="3.4"/>
<circle cx="166.0" cy="496.5" r="8.1"/>
<circle cx="164.2" cy="463.1" r="4.7"/>
<circle cx="180.0" cy="437.4" r="8.8"/>
<circle cx="197.7" cy="453.9" r="5.4"/>
<circle cx="177.4" cy="504.0" r="3.1"/>
<circle cx="189.5" cy="447.0" r="4.8"/>
<circle cx="171.3" cy="488.2" r="5.2"/>
<circle cx="170.4" cy="436.8" r="3.4"/>
<circle cx="187.4" cy="458.5" r="6.9"/>
<circle cx="202.0" cy="483.9" r="3.7"/>
<circle cx="200.8" cy="469.2" r="3.3"/>
<circle cx="163.5" cy="469.9" r="5.9"/>
<circle cx="198.1" cy="425.0" r="6.8"/>
<circle cx="195.3" cy="460.6" r="6.3"/>
<circle cx="219.0" cy="468.1" r="4.2"/>
<circle cx="187.8" cy="454.0" r="3.1"/>
<circle cx="171.0" cy="450.4" r="4.8"/>
<circle cx="193.7" cy="462.7" r="8.4"/>
<circle cx="194.9" cy="464.7" r="4.6"/>
<circle cx="206.7" cy="457.6" r="8.6"/>
<circle cx="172.3" cy="443.5" r="6.9"/>
<circle cx="177.9" cy="455.9" r="9.1"/>
<circle cx="178.5" cy="442.3" r="4.4"/>
<circle cx="196.6" cy="428.7" r="7.7"/>
<circle cx="182.4" cy="447.5" r="4.6"/>
<circle cx="212.4" cy="440.4" r="4.7"/>
<circle cx="298.5" cy="476.0" r="5.9"/>
<circle cx="294.7" cy="430.8" r="9.2"/>
<circle cx="353.7" cy="465.8" r="9.0"/>
<circle cx="339.2" cy="485.0" r="4.0"/>
<circle cx="297.0" cy="434.9" r="2.6"/>
<circle cx="312.6" cy="491.3" r="4.5"/>
<circle cx="345.9" cy="425.9" r="3.8"/>
<circle cx="272.8" cy="423.7" r="6.7"/>
<circle cx="319.8" cy="405.5" r="3.5"/>
<circle cx="266.0" cy="442.4" r="6.6"/>
<circle cx="288.8" cy="443.6" r="4.4"/>
<circle cx="299.0" cy="450.4" r="4.4"/>
<circle cx="277.5" cy="451.5" r="6.6"/>
<circle cx="357.8" cy="451.9" r="5.7"/>
<circle cx="282.7" cy="410.4" r="5.3"/>
<circle cx="318.0" cy="447.7" r="5.9"/>
<circle cx="343.1" cy="455.9" r="6.8"/>
<circle cx="278.1" cy="448.2" r="7.1"/>
<circle cx="300.8" cy="417.0" r="6.6"/>
<circle cx="288.3" cy="470.3" r="6.3"/>
<circle cx="314.8" cy="474.9" r="5.7"/>
<circle cx="318.0" cy="432.3" r="8.0"/>
<circle cx="287.3" cy="449.5" r="6.9"/>
<circle cx="282.0" cy="414.9" r="5.0"/>
<circle cx="297.5" cy="480.4" r="6.4"/>
<circle cx="348.3" cy="459.6" r="8.4"/>
<circle cx="328.9" cy="456.2" r="2.7"/>
<circle cx="339.4" cy="434.4" r="6.4"/>
<circle cx="338.2" cy="432.3" r="5.9"/>
<circle cx="296.4" cy="419.5" r="4.6"/>
<circle cx="293.7" cy="427.0" r="7.3"/>
<circle cx="311.0" cy="456.0" r="9.4"/>
<circle cx="294.1" cy="430.9" r="9.0"/>
<circle cx="289.4" cy="442.9" r="5.3"/>
<circle cx="296.5" cy="473.2" r="6.8"/>
<circle cx="339.7" cy="460.5" r="2.6"/>
<circle cx="320.6" cy="420.8" r="8.2"/>
<circle cx="333.6" cy="452.1" r="6.8"/>
<circle cx="337.3" cy="446.7" r="4.3"/>
<circle cx="296.9" cy="436.9" r="2.4"/>
<circle cx="347.4" cy="451.1" r="3.9"/>
<circle cx="352.6" cy="475.5" r="2.4"/>
<circle cx="304.3" cy="432.5" r="7.5"/>
<circle cx="350.6" cy="462.8" r="9.2"/>
<circle cx="306.6" cy="440.0" r="6.1"/>
<circle cx="249.5" cy="463.7" r="6.9"/>
<circle cx="307.2" cy="446.4" r="3.4"/>
<circle cx="312.4" cy="441.1" r="6.2"/>
<circle cx="334.0" cy="491.2" r="4.2"/>
<circle cx="285.1" cy="473.2" r="6.0"/>
<circle cx="336.5" cy="483.9" r="5.9"/>
<circle cx="289.4" cy="431.8" r="6.4"/>
<circle cx="350.9" cy="435.7" r="4.9"/>
<circle cx="293.9" cy="406.9" r="5.8"/>
<circle cx="356.6" cy="443.6" r="4.9"/>
<circle cx="259.0" cy="471.8" r="6.1"/>
<circle cx="263.6" cy="419.5" r="7.7"/>
<circle cx="328.3" cy="450.2" r="5.8"/>
<circle cx="316.8" cy="389.5" r="9.3"/>
<circle cx="240.4" cy="383.6" r="9.1"/>
<circle cx="254.8" cy="388.4" r="9.1"/>
<circle cx="277.3" cy="397.1" r="7.6"/>
<circle cx="226.7" cy="379.4" r="7.5"/>
<circle cx="260.5" cy="397.7" r="8.2"/>
<circle cx="308.3" cy="392.6" r="7.6"/>
<circle cx="205.9" cy="378.8" r="8.4"/>
<circle cx="222.4" cy="387.4" r="2.7"/>
<circle cx="281.7" cy="395.9" r="8.5"/>
<circle cx="232.4" cy="390.9" r="2.5"/>
<circle cx="291.0" cy="385.9" r="3.4"/>
<circle cx="266.1" cy="382.0" r="7.9"/>
<circle cx="255.9" cy="385.8" r="4.0"/>
<circle cx="285.1" cy="380.0" r="7.7"/>
<circle cx="267.8" cy="378.7" r="9.0"/>
<circle cx="261.8" cy="387.9" r="4.5"/>
<circle cx="270.4" cy="387.1" r="9.3"/>
<circle cx="271.2" cy="384.6" r="8.0"/>
<circle cx="317.4" cy="398.1" r="5.7"/>
<circle cx="247.5" cy="379.9" r="7.4"/>
<circle cx="263.5" cy="387.9" r="5.1"/>
<circle cx="266.2" cy="473.8" r="7.1"/>
<circle cx="242.1" cy="470.1" r="9.6"/>
<circle cx="244.9" cy="492.5" r="9.4"/>
<circle cx="229.6" cy="480.2" r="6.3"/>
<circle cx="247.9" cy="497.1" r="4.4"/>
<circle cx="225.7" cy="490.9" r="4.4"/>
<circle cx="234.8" cy="488.1" r="7.5"/>
<circle cx="274.0" cy="496.7" r="6.8"/>
<circle cx="259.9" cy="469.8" r="3.1"/>
<circle cx="268.0" cy="507.1" r="8.6"/>
<circle cx="221.2" cy="493.5" r="8.2"/>
<circle cx="229.5" cy="484.8" r="4.2"/>
<circle cx="231.1" cy="473.9" r="3.8"/>
<circle cx="234.2" cy="503.3" r="2.8"/>
<circle cx="244.2" cy="480.1" r="3.2"/>
<circle cx="269.8" cy="499.7" r="7.5"/>
<circle cx="222.2" cy="491.5" r="4.6"/>
<circle cx="274.7" cy="489.6" r="2.9"/>
<circle cx="240.6" cy="487.3" r="7.8"/>
<circle cx="239.0" cy="489.7" r="7.9"/>
<circle cx="236.7" cy="490.6" r="8.4"/>
<circle cx="243.1" cy="502.8" r="7.6"/>
<circle cx="227.6" cy="486.9" r="3.6"/>
<circle cx="233.3" cy="481.6" r="2.5"/>
<circle cx="220.6" cy="480.4" r="4.6"/>
<circle cx="215.7" cy="476.8" r="8.5"/>
<circle cx="237.9" cy="494.6" r="8.1"/>
<circle cx="235.0" cy="485.7" r="7.9"/>
<circle cx="254.6" cy="468.2" r="4.0"/>
<circle cx="252.3" cy="482.1" r="7.7"/>
<circle cx="229.2" cy="495.8" r="5.8"/>
<circle cx="256.6" cy="490.5" r="5.5"/>
<circle cx="255.5" cy="504.2" r="9.3"/>
<circle cx="224.4" cy="508.5" r="6.3"/>
<circle cx="268.0" cy="499.9" r="8.3"/>
<circle cx="215.2" cy="488.7" r="4.1"/>
<circle cx="247.8" cy="488.1" r="2.6"/>
<circle cx="243.5" cy="491.1" r="7.5"/>
<circle cx="258.9" cy="492.0" r="5.6"/>
<circle cx="233.7" cy="484.2" r="8.9"/>
<circle cx="244.4" cy="491.9" r="5.5"/>
<circle cx="234.4" cy="496.5" r="4.4"/>
<circle cx="207.7" cy="475.9" r="3.3"/>
<circle cx="235.8" cy="482.2" r="9.4"/>
<circle cx="222.4" cy="498.7" r="8.4"/>
<circle cx="203.9" cy="508.9" r="7.9"/>
<circle cx="236.9" cy="501.7" r="6.9"/>
<circle cx="248.6" cy="462.9" r="9.2"/>
<circle cx="255.4" cy="495.2" r="9.4"/>
<circle cx="236.1" cy="503.6" r="7.9"/>
<circle cx="229.7" cy="489.1" r="5.5"/>
<circle cx="245.2" cy="490.9" r="9.0"/>
<circle cx="258.2" cy="482.9" r="9.3"/>
<circle cx="239.4" cy="487.7" r="7.7"/>
<circle cx="230.1" cy="480.6" r="6.8"/>
<circle cx="220.9" cy="439.4" r="5.3"/>
<circle cx="238.2" cy="446.0" r="5.9"/>
<circle cx="240.7" cy="474.1" r="8.3"/>
<circle cx="226.3" cy="478.7" r="4.4"/>
<circle cx="232.9" cy="460.9" r="5.2"/>
<circle cx="225.7" cy="469.4" r="3.3"/>
<circle cx="237.5" cy="424.2" r="6.0"/>
<circle cx="234.2" cy="488.0" r="5.6"/>
<circle cx="216.9" cy="434.4" r="4.7"/>
<circle cx="230.8" cy="480.3" r="5.8"/>
<circle cx="240.1" cy="453.7" r="7.6"/>
<circle cx="213.8" cy="442.3" r="7.0"/>
<circle cx="221.7" cy="491.6" r="2.5"/>
<circle cx="237.7" cy="433.3" r="3.0"/>
<circle cx="208.3" cy="466.4" r="2.8"/>
<circle cx="248.6" cy="442.1" r="2.9"/>
<circle cx="216.3" cy="480.8" r="9.2"/>
<circle cx="234.8" cy="425.9" r="8.9"/>
<circle cx="228.9" cy="424.8" r="8.8"/>
<circle cx="233.8" cy="445.6" r="7.0"/>
<circle cx="229.7" cy="420.3" r="6.9"/>
<circle cx="215.8" cy="441.1" r="9.3"/>
<circle cx="218.1" cy="437.4" r="5.4"/>
<circle cx="226.2" cy="432.3" r="5.7"/>
<circle cx="219.4" cy="466.0" r="9.2"/>
<circle cx="213.9" cy="452.1" r="2.9"/>
<circle cx="238.4" cy="476.8" r="4.3"/>
<circle cx="238.1" cy="441.8" r="9.2"/>
<circle cx="236.5" cy="447.8" r="6.7"/>
<circle cx="232.0" cy="452.5" r="5.5"/>
<circle cx="247.7" cy="432.1" r="7.0"/>
<circle cx="212.4" cy="448.8" r="8.0"/>
<circle cx="217.1" cy="477.1" r="6.8"/>
<circle cx="220.9" cy="425.8" r="3.0"/>
<circle cx="214.4" cy="470.0" r="6.6"/>
<circle cx="242.6" cy="445.9" r="5.9"/>
<circle cx="239.9" cy="451.5" r="6.4"/>
<circle cx="233.4" cy="470.4" r="9.1"/>
<circle cx="221.7" cy="451.1" r="8.8"/>
<circle cx="245.0" cy="386.0" r="8.1"/>
<circle cx="234.0" cy="468.5" r="5.5"/>
<circle cx="231.1" cy="466.1" r="8.6"/>
<circle cx="225.5" cy="446.7" r="6.4"/>
<circle cx="221.0" cy="486.5" r="2.9"/>
<circle cx="237.5" cy="425.3" r="7.5"/>
<circle cx="211.5" cy="452.4" r="5.9"/>
<circle cx="184.4" cy="435.9" r="5.2"/>
<circle cx="233.5" cy="461.7" r="7.3"/>
<circle cx="234.4" cy="460.6" r="6.5"/>
<circle cx="210.1" cy="423.6" r="2.4"/>
<circle cx="263.5" cy="462.6" r="7.9"/>
<circle cx="267.0" cy="483.0" r="3.8"/>
<circle cx="251.5" cy="468.0" r="5.2"/>
<circle cx="287.7" cy="483.2" r="6.9"/>
<circle cx="245.2" cy="480.7" r="4.1"/>
<circle cx="285.2" cy="463.2" r="6.7"/>
<circle cx="266.4" cy="463.9" r="9.5"/>
<circle cx="230.2" cy="474.9" r="5.2"/>
<circle cx="260.2" cy="465.0" r="6.6"/>
<circle cx="239.0" cy="476.3" r="4.5"/>
<circle cx="256.7" cy="480.5" r="7.8"/>
<circle cx="256.1" cy="471.6" r="5.2"/>
<circle cx="258.1" cy="476.7" r="3.7"/>
<circle cx="256.2" cy="481.8" r="2.9"/>
<circle cx="262.3" cy="477.5" r="7.9"/>
<circle cx="273.3" cy="490.9" r="2.8"/>
<circle cx="265.5" cy="468.1" r="6.5"/>
<circle cx="264.6" cy="466.8" r="6.2"/>
<circle cx="238.5" cy="496.9" r="6.9"/>
<circle cx="252.7" cy="473.7" r="4.4"/>
<circle cx="259.3" cy="464.3" r="8.5"/>
<circle cx="255.4" cy="481.2" r="7.6"/>
<circle cx="266.6" cy="469.2" r="5.6"/>
<circle cx="259.1" cy="496.2" r="6.0"/>
<circle cx="251.8" cy="469.4" r="4.3"/>
<circle cx="273.2" cy="496.7" r="6.0"/>
<circle cx="274.9" cy="484.6" r="5.5"/>
<circle cx="260.6" cy="478.6" r="4.7"/>
<circle cx="196.5" cy="517.0" r="4.6"/>
<circle cx="203.5" cy="517.0" r="5.2"/>
<circle cx="214.0" cy="517.0" r="4.8"/>
<circle cx="221.5" cy="517.0" r="4.9"/>
<circle cx="232.0" cy="517.0" r="5.4"/>
</g>
<path d="M151.9,483.6 L213.3,498.4" fill="none" stroke="#6F6391" stroke-width="3.2" stroke-dasharray="13 13.6"/>
<path d="M169.4,473.1 L236,465.4" fill="none" stroke="#A393BF" stroke-width="3.2" stroke-dasharray="13 13.6"/>
<path d="M168.5,411.8 Q285.5,460.2 402.5,465.3" fill="none" stroke="#1F3368" stroke-width="3.2" stroke-dasharray="13.2 13.5"/>
<path d="M152.8,456.1 Q279,440 405.9,434.7" fill="none" stroke="#F08080" stroke-width="3.2" stroke-dasharray="13.2 13.5"/>
<path d="M152.8,447 Q277,424.1 402.5,414.5" fill="none" stroke="#FBB999" stroke-width="3.3"/>
<path d="M151.9,447.4 Q277,418.8 402.5,408.8" fill="none" stroke="#1E8FA8" stroke-width="3.2" stroke-dasharray="13.2 13.4"/>
<path d="M152.8,461.3 Q279,438.4 405.9,427.7" fill="none" stroke="#E24B63" stroke-width="3.4"/>
<path d="M173.7,476.1 Q290,457.3 405.9,450.6" fill="none" stroke="#3D304C" stroke-width="3.2"/>
<path d="M139,472.3 H417.6" stroke="#000" stroke-width="1.25" stroke-dasharray="6.4 3.2" fill="none"/>
<path d="M225.5,293.5 V526" stroke="#000" stroke-width="1.25" stroke-dasharray="6.4 3.2" fill="none"/>
<path d="M152.8,465.9 Q279,449.9 405.9,447.1" fill="none" stroke="#000" stroke-width="5"/>
<path d="M139.1,293.5 V525.8 H419.2" fill="none" stroke="#000" stroke-width="1.5"/>
<path d="M134.6,302 H139" stroke="#333" stroke-width="1.4"/>
<text x="131.5" y="305.8" class="tk" text-anchor="end" >120</text>
<path d="M134.6,358.6 H139" stroke="#333" stroke-width="1.4"/>
<text x="131.5" y="362.4" class="tk" text-anchor="end" >80</text>
<path d="M134.6,415.3 H139" stroke="#333" stroke-width="1.4"/>
<text x="131.5" y="419.1" class="tk" text-anchor="end" >40</text>
<path d="M134.6,472.3 H139" stroke="#333" stroke-width="1.4"/>
<text x="131.5" y="476.1" class="tk" text-anchor="end" >0</text>
<path d="M225.5,526 V530.2" stroke="#333" stroke-width="1.4"/>
<text x="225.5" y="542.0" class="tk" text-anchor="middle" >0</text>
<path d="M318.3,526 V530.2" stroke="#333" stroke-width="1.4"/>
<text x="318.3" y="542.0" class="tk" text-anchor="middle" >50</text>
<path d="M411,526 V530.2" stroke="#333" stroke-width="1.4"/>
<text x="411.0" y="542.0" class="tk" text-anchor="middle" >100</text>
<text x="279.7" y="556.0" class="ax" text-anchor="middle" >Soil biota response to PRE+ (%)</text>
<text class="ax" text-anchor="middle" transform="translate(106,410) rotate(-90)">Plant response to PRE+ (%)</text>
<text x="146.8" y="305.5" class="an" text-anchor="start" >Grassland</text>
<text x="146.8" y="316.7" class="an" text-anchor="start" >P = 0.011, n = 459 (35)</text>
<text x="96.8" y="296.2" class="pl" text-anchor="start" >b</text>
</g>
<g id="insetB">
<path d="M356.8,342.2 L356.8,342.2 L357.4,341.6 L357.9,340.9 L358.5,340.2 L359.1,339.4 L359.7,338.6 L360.2,337.8 L360.8,337.0 L361.4,336.1 L361.9,335.2 L362.5,334.2 L363.1,333.3 L363.6,332.2 L364.2,331.2 L364.8,330.1 L365.4,329.0 L365.9,327.8 L366.5,326.6 L367.1,325.4 L367.6,324.0 L368.2,322.7 L368.8,321.2 L369.4,319.7 L369.9,318.2 L370.5,316.5 L371.1,314.8 L371.6,312.9 L372.2,310.8 L372.8,308.6 L373.3,306.4 L373.9,304.3 L374.5,302.4 L375.1,300.6 L375.6,298.7 L376.2,296.9 L376.8,295.3 L377.3,294.0 L377.9,293.2 L378.5,292.4 L379.1,291.8 L379.6,291.1 L380.2,290.6 L380.8,290.1 L381.3,289.7 L381.9,289.4 L382.5,289.2 L383.0,289.1 L383.6,289.1 L384.2,289.3 L384.8,289.4 L385.3,289.7 L385.9,290.0 L386.5,290.4 L387.0,290.8 L387.6,291.3 L388.2,291.8 L388.8,292.4 L389.3,292.9 L389.9,293.5 L390.5,294.4 L391.0,295.4 L391.6,296.7 L392.2,298.1 L392.8,299.6 L393.3,301.1 L393.9,302.6 L394.5,304.2 L395.0,306.0 L395.6,307.8 L396.2,309.7 L396.7,311.6 L397.3,313.4 L397.9,315.1 L398.5,316.6 L399.0,318.0 L399.6,319.4 L400.2,320.8 L400.7,322.1 L401.3,323.4 L401.9,324.6 L402.5,325.8 L403.0,327.0 L403.6,328.1 L404.2,329.2 L404.7,330.4 L405.3,331.5 L405.9,332.7 L406.4,333.9 L407.0,335.0 L407.6,336.0 L408.2,337.0 L408.7,337.9 L409.3,338.6 L409.9,339.2 L410.4,339.6 L411.0,339.9 L411.6,340.2 L412.2,340.4 L412.7,340.7 L413.3,340.9 L413.9,341.2 L414.4,341.4 L415.0,341.5 L415.6,341.7 L416.1,341.9 L416.7,342.0 L417.3,342.1 L417.9,342.1 L418.4,342.2 L419.0,342.2 Z" fill="#cccccc"/>
<path d="M355.4,292.3 V347" stroke="#000" stroke-width="3" stroke-dasharray="10.7 11.55" fill="none"/>
<path d="M363.2,342.2 H406.7" stroke="#000" stroke-width="1.9"/>
<path d="M366.4,342.2 H404" stroke="#000" stroke-width="4.2"/>
<circle cx="384.7" cy="342.2" r="4.6" fill="#000"/>
<text x="357.3" y="355.9" class="tk" text-anchor="middle" >0.0</text>
<text x="384.9" y="355.9" class="tk" text-anchor="middle" >0.1</text>
<text x="414.2" y="355.9" class="tk" text-anchor="middle" >0.2</text>
<text x="419.6" y="289.6" class="mb" text-anchor="end" >Mean: 0.1</text>
</g>
<g id="panelC">
<text x="452.0" y="29.0" class="pl" text-anchor="start" >c</text>
<path d="M451.2,37.3 H790" stroke="#000" stroke-width="1.2"/>
<path d="M451.2,72 H790" stroke="#5a5a5a" stroke-width="1.8"/>
<path d="M451.2,469.6 H790" stroke="#000" stroke-width="1.2"/>
<text x="456.0" y="58.7" class="row" text-anchor="start" >Coefficients</text>
<text x="573.5" y="58.7" class="row" text-anchor="middle" >SBD</text>
<text x="666.5" y="58.7" class="row" text-anchor="middle" >SBA</text>
<text x="752.8" y="58.7" class="row" text-anchor="middle" >SBB</text>
<text x="456.5" y="86.7" class="rowb" text-anchor="start" >Forest</text>
<text x="456.5" y="125.3" class="row" text-anchor="start" >AGB</text>
<text x="456.5" y="190.0" class="row" text-anchor="start" >BGB</text>
<text x="456.5" y="234.1" class="rowb" text-anchor="start" >Grassland</text>
<text x="456.5" y="272.8" class="row" text-anchor="start" >AGB</text>
<text x="456.5" y="360.3" class="row" text-anchor="start" >AGD</text>
<text x="456.5" y="440.9" class="row" text-anchor="start" >BGB</text>
<path d="M569.5,184.3 H577.5" stroke="#000" stroke-width="1.1"/>
<path d="M657.2,184.3 H665" stroke="#000" stroke-width="1.1"/>
<path d="M661,426.2 H669" stroke="#000" stroke-width="1.1"/>
<path d="M541.4,134.0 L541.4,134.0 L542.0,134.0 L542.6,134.0 L543.1,133.9 L543.7,133.9 L544.3,133.8 L544.9,133.7 L545.4,133.6 L546.0,133.5 L546.6,133.4 L547.2,133.2 L547.8,133.1 L548.3,132.9 L548.9,132.8 L549.5,132.6 L550.1,132.4 L550.6,132.2 L551.2,132.0 L551.8,131.7 L552.4,131.5 L552.9,131.2 L553.5,130.9 L554.1,130.4 L554.7,129.9 L555.3,129.3 L555.8,128.5 L556.4,127.7 L557.0,126.8 L557.6,125.9 L558.1,124.8 L558.7,123.8 L559.3,122.6 L559.9,121.5 L560.5,120.2 L561.0,118.6 L561.6,116.6 L562.2,114.4 L562.8,112.1 L563.3,109.8 L563.9,107.7 L564.5,105.6 L565.1,103.6 L565.6,101.5 L566.2,99.5 L566.8,97.4 L567.4,95.4 L568.0,93.4 L568.5,91.3 L569.1,89.1 L569.7,87.1 L570.3,85.6 L570.8,84.5 L571.4,83.4 L572.0,82.5 L572.6,81.7 L573.2,81.2 L573.7,81.1 L574.3,81.3 L574.9,81.7 L575.5,82.3 L576.0,83.0 L576.6,83.9 L577.2,84.9 L577.8,86.3 L578.3,88.7 L578.9,91.6 L579.5,94.3 L580.1,96.8 L580.7,99.2 L581.2,101.7 L581.8,104.1 L582.4,106.4 L583.0,108.6 L583.5,110.8 L584.1,113.1 L584.7,115.3 L585.3,117.4 L585.9,119.2 L586.4,120.6 L587.0,121.8 L587.6,123.0 L588.2,124.1 L588.7,125.2 L589.3,126.2 L589.9,127.2 L590.5,128.1 L591.0,128.9 L591.6,129.6 L592.2,130.2 L592.8,130.7 L593.4,131.1 L593.9,131.3 L594.5,131.5 L595.1,131.7 L595.7,131.9 L596.2,132.0 L596.8,132.2 L597.4,132.3 L598.0,132.5 L598.6,132.6 L599.1,132.8 L599.7,132.9 L600.3,133.0 L600.9,133.1 L601.4,133.2 L602.0,133.3 L602.6,133.4 L603.2,133.5 L603.7,133.6 L604.3,133.7 L604.9,133.7 L605.5,133.8 L606.1,133.8 L606.6,133.9 L607.2,133.9 L607.8,133.9 L608.4,134.0 L608.9,134.0 L609.5,134.0 L610.1,134.0 Z" fill="#FBB698"/>
<path d="M570.9,88.6 V135" stroke="#000" stroke-width="1.6" stroke-dasharray="5.3 5.5" fill="none"/>
<path d="M557,134 H590.2" stroke="#000" stroke-width="1.9"/>
<path d="M559.1,134 H587" stroke="#000" stroke-width="4.1"/>
<circle cx="573.1" cy="134" r="4.7" fill="#000"/>
<text x="549.8" y="148.9" class="tk" text-anchor="middle" >−2</text>
<text x="570.7" y="148.9" class="tk" text-anchor="middle" >0</text>
<text x="592.4" y="148.9" class="tk" text-anchor="middle" >2</text>
<path d="M627.5,132.6 L627.5,132.6 L628.1,132.6 L628.6,132.6 L629.2,132.5 L629.8,132.5 L630.3,132.4 L630.9,132.4 L631.5,132.3 L632.0,132.2 L632.6,132.1 L633.2,132.0 L633.7,131.8 L634.3,131.7 L634.9,131.5 L635.4,131.4 L636.0,131.2 L636.6,131.0 L637.1,130.8 L637.7,130.6 L638.3,130.4 L638.8,130.2 L639.4,129.9 L640.0,129.5 L640.5,129.0 L641.1,128.3 L641.7,127.5 L642.2,126.6 L642.8,125.6 L643.4,124.6 L643.9,123.5 L644.5,122.3 L645.1,121.2 L645.7,120.0 L646.2,118.8 L646.8,117.5 L647.4,115.9 L647.9,114.3 L648.5,112.7 L649.1,111.0 L649.6,109.3 L650.2,107.7 L650.8,106.2 L651.3,104.7 L651.9,103.2 L652.5,101.7 L653.0,100.3 L653.6,98.8 L654.2,97.4 L654.7,95.9 L655.3,94.5 L655.9,93.0 L656.4,91.5 L657.0,90.0 L657.6,88.5 L658.1,87.1 L658.7,85.8 L659.3,84.7 L659.8,83.4 L660.4,82.3 L661.0,81.4 L661.5,81.1 L662.1,81.4 L662.7,82.1 L663.2,83.1 L663.8,84.1 L664.4,85.2 L664.9,86.2 L665.5,87.2 L666.1,88.4 L666.6,89.5 L667.2,90.8 L667.8,92.0 L668.3,93.2 L668.9,94.4 L669.5,95.6 L670.0,96.8 L670.6,97.9 L671.2,99.1 L671.7,100.3 L672.3,101.5 L672.9,102.8 L673.4,104.0 L674.0,105.4 L674.6,106.8 L675.1,108.4 L675.7,110.1 L676.3,111.9 L676.8,113.8 L677.4,115.7 L678.0,117.4 L678.6,118.9 L679.1,120.2 L679.7,121.4 L680.3,122.6 L680.8,123.8 L681.4,124.9 L682.0,125.9 L682.5,126.9 L683.1,127.8 L683.7,128.6 L684.2,129.2 L684.8,129.7 L685.4,130.1 L685.9,130.3 L686.5,130.6 L687.1,130.8 L687.6,131.0 L688.2,131.3 L688.8,131.5 L689.3,131.6 L689.9,131.8 L690.5,132.0 L691.0,132.1 L691.6,132.2 L692.2,132.3 L692.7,132.4 L693.3,132.5 L693.9,132.6 L694.4,132.6 L695.0,132.6 Z" fill="#F47F80"/>
<path d="M667.9,89.7 V136.3" stroke="#000" stroke-width="1.6" stroke-dasharray="5.3 5.5" fill="none"/>
<path d="M643.4,132.6 H681.5" stroke="#000" stroke-width="1.9"/>
<path d="M646.9,132.6 H677.8" stroke="#000" stroke-width="4.1"/>
<circle cx="662" cy="132.6" r="4.7" fill="#000"/>
<text x="632.2" y="146.6" class="tk" text-anchor="middle" >−0.6</text>
<text x="652.6" y="146.6" class="tk" text-anchor="middle" >−0.3</text>
<text x="667.9" y="146.6" class="tk" text-anchor="middle" >0</text>
<text x="685.3" y="146.6" class="tk" text-anchor="middle" >0.3</text>
<path d="M720.8,132.8 L720.8,132.8 L721.3,132.7 L721.8,132.6 L722.4,132.4 L722.9,132.2 L723.5,131.9 L724.0,131.6 L724.6,131.2 L725.1,130.8 L725.7,130.4 L726.2,130.0 L726.8,129.6 L727.3,129.0 L727.9,128.4 L728.4,127.6 L729.0,126.9 L729.5,126.0 L730.1,125.1 L730.6,124.2 L731.2,123.2 L731.7,122.2 L732.3,121.2 L732.8,120.2 L733.4,119.1 L733.9,117.9 L734.5,116.6 L735.0,115.1 L735.6,113.7 L736.1,112.2 L736.7,110.6 L737.2,109.1 L737.8,107.6 L738.3,106.1 L738.9,104.5 L739.4,103.0 L740.0,101.4 L740.5,99.8 L741.1,98.2 L741.6,96.7 L742.2,95.1 L742.7,93.7 L743.3,92.2 L743.8,90.7 L744.4,89.2 L744.9,87.8 L745.5,86.5 L746.0,85.4 L746.6,84.6 L747.1,83.8 L747.7,83.1 L748.2,82.4 L748.8,81.7 L749.3,81.2 L749.9,80.8 L750.4,80.6 L751.0,80.6 L751.5,81.0 L752.1,81.6 L752.6,82.5 L753.2,83.4 L753.7,84.4 L754.3,85.3 L754.8,86.4 L755.4,87.7 L755.9,89.0 L756.5,90.4 L757.0,91.8 L757.6,93.2 L758.1,94.6 L758.7,96.0 L759.2,97.5 L759.8,99.0 L760.3,100.5 L760.9,102.0 L761.4,103.6 L762.0,105.1 L762.5,106.6 L763.1,108.1 L763.6,109.7 L764.2,111.4 L764.7,113.0 L765.3,114.6 L765.8,116.1 L766.4,117.5 L766.9,118.8 L767.5,120.0 L768.0,121.1 L768.6,122.1 L769.1,123.2 L769.7,124.2 L770.2,125.2 L770.8,126.2 L771.3,127.1 L771.9,127.9 L772.4,128.6 L773.0,129.2 L773.5,129.7 L774.1,130.1 L774.6,130.3 L775.2,130.5 L775.7,130.7 L776.3,130.9 L776.8,131.1 L777.4,131.3 L777.9,131.5 L778.5,131.6 L779.0,131.8 L779.6,131.9 L780.1,132.1 L780.7,132.2 L781.2,132.3 L781.8,132.4 L782.3,132.5 L782.9,132.6 L783.4,132.6 L784.0,132.7 L784.5,132.7 L785.1,132.8 L785.6,132.8 L786.1,132.8 Z" fill="#E4475F"/>
<path d="M717,77.4 V137.4" stroke="#000" stroke-width="1.6" stroke-dasharray="5.3 5.5" fill="none"/>
<path d="M730.9,132.8 H767.9" stroke="#000" stroke-width="1.9"/>
<path d="M734.1,132.8 H764.7" stroke="#000" stroke-width="4.1"/>
<circle cx="749.7" cy="132.8" r="4.7" fill="#000"/>
<text x="719.1" y="147.1" class="tk" text-anchor="middle" >0.0</text>
<text x="743.2" y="147.1" class="tk" text-anchor="middle" >0.4</text>
<text x="769.5" y="147.1" class="tk" text-anchor="middle" >0.8</text>
<path d="M717.0,211.1 L717.0,211.1 L717.6,211.1 L718.2,211.0 L718.7,211.0 L719.3,210.9 L719.9,210.8 L720.5,210.6 L721.1,210.5 L721.7,210.3 L722.2,210.1 L722.8,209.9 L723.4,209.7 L724.0,209.4 L724.6,209.2 L725.1,208.9 L725.7,208.7 L726.3,208.4 L726.9,208.0 L727.5,207.6 L728.0,207.1 L728.6,206.5 L729.2,205.9 L729.8,205.1 L730.4,204.4 L731.0,203.5 L731.5,202.6 L732.1,201.7 L732.7,200.8 L733.3,199.7 L733.9,198.7 L734.4,197.6 L735.0,196.3 L735.6,194.9 L736.2,193.2 L736.8,191.5 L737.4,189.7 L737.9,187.8 L738.5,186.0 L739.1,184.2 L739.7,182.3 L740.3,180.3 L740.8,178.2 L741.4,176.2 L742.0,174.3 L742.6,172.4 L743.2,170.7 L743.7,168.9 L744.3,167.2 L744.9,165.6 L745.5,164.2 L746.1,163.1 L746.7,162.2 L747.2,161.2 L747.8,160.4 L748.4,159.7 L749.0,159.2 L749.6,159.1 L750.1,159.3 L750.7,159.9 L751.3,160.8 L751.9,161.8 L752.5,162.8 L753.1,164.0 L753.6,165.6 L754.2,167.5 L754.8,169.5 L755.4,171.4 L756.0,173.2 L756.5,175.0 L757.1,176.7 L757.7,178.5 L758.3,180.2 L758.9,182.0 L759.5,183.7 L760.0,185.5 L760.6,187.4 L761.2,189.3 L761.8,191.3 L762.4,193.2 L762.9,195.0 L763.5,196.6 L764.1,197.9 L764.7,199.0 L765.3,200.2 L765.8,201.3 L766.4,202.3 L767.0,203.3 L767.6,204.3 L768.2,205.1 L768.8,206.0 L769.3,206.7 L769.9,207.3 L770.5,207.8 L771.1,208.2 L771.7,208.5 L772.2,208.7 L772.8,208.9 L773.4,209.1 L774.0,209.2 L774.6,209.4 L775.2,209.6 L775.7,209.7 L776.3,209.9 L776.9,210.0 L777.5,210.1 L778.1,210.3 L778.6,210.4 L779.2,210.5 L779.8,210.6 L780.4,210.7 L781.0,210.7 L781.5,210.8 L782.1,210.9 L782.7,210.9 L783.3,211.0 L783.9,211.0 L784.5,211.1 L785.0,211.1 L785.6,211.1 L786.2,211.1 Z" fill="#1B91A9"/>
<path d="M749.1,166.1 V212" stroke="#000" stroke-width="1.6" stroke-dasharray="5.3 5.5" fill="none"/>
<path d="M730.4,211.1 H767.9" stroke="#000" stroke-width="1.9"/>
<path d="M733.8,211.1 H764.2" stroke="#000" stroke-width="4.1"/>
<circle cx="748.8" cy="211.1" r="4.7" fill="#000"/>
<text x="718.0" y="225.9" class="tk" text-anchor="middle" >−4</text>
<text x="733.8" y="225.9" class="tk" text-anchor="middle" >−2</text>
<text x="748.6" y="225.9" class="tk" text-anchor="middle" >0</text>
<text x="764.5" y="225.9" class="tk" text-anchor="middle" >2</text>
<text x="779.7" y="225.9" class="tk" text-anchor="middle" >4</text>
<path d="M541.5,291.1 L541.5,291.1 L542.0,291.1 L542.5,291.0 L543.0,291.0 L543.5,290.9 L544.0,290.7 L544.5,290.6 L545.0,290.4 L545.5,290.2 L546.0,290.0 L546.5,289.8 L547.0,289.5 L547.5,289.3 L548.0,289.0 L548.5,288.7 L549.0,288.5 L549.5,288.2 L550.0,287.8 L550.5,287.4 L551.0,286.9 L551.5,286.3 L552.0,285.7 L552.5,285.1 L553.0,284.4 L553.6,283.7 L554.1,283.0 L554.6,282.2 L555.1,281.4 L555.6,280.6 L556.1,279.7 L556.6,278.8 L557.1,277.9 L557.6,276.9 L558.1,275.8 L558.6,274.6 L559.1,273.3 L559.6,271.9 L560.1,270.4 L560.6,268.9 L561.1,267.4 L561.6,265.9 L562.1,264.3 L562.6,262.6 L563.1,260.7 L563.6,258.8 L564.1,256.9 L564.6,255.0 L565.1,253.4 L565.7,252.0 L566.2,250.7 L566.7,249.6 L567.2,248.5 L567.7,247.4 L568.2,246.4 L568.7,245.5 L569.2,244.6 L569.7,243.7 L570.2,242.8 L570.7,241.9 L571.2,240.9 L571.7,240.1 L572.2,239.5 L572.7,239.3 L573.2,239.6 L573.7,240.5 L574.2,241.7 L574.7,243.1 L575.2,244.7 L575.7,247.0 L576.2,249.5 L576.7,251.8 L577.2,253.8 L577.8,255.7 L578.3,257.5 L578.8,259.3 L579.3,261.0 L579.8,262.7 L580.3,264.3 L580.8,265.9 L581.3,267.6 L581.8,269.3 L582.3,271.0 L582.8,272.6 L583.3,274.2 L583.8,275.6 L584.3,276.9 L584.8,278.1 L585.3,279.1 L585.8,280.1 L586.3,281.1 L586.8,282.1 L587.3,283.0 L587.8,283.9 L588.3,284.7 L588.8,285.5 L589.3,286.2 L589.9,286.8 L590.4,287.4 L590.9,287.8 L591.4,288.2 L591.9,288.5 L592.4,288.8 L592.9,289.0 L593.4,289.2 L593.9,289.4 L594.4,289.6 L594.9,289.8 L595.4,290.0 L595.9,290.1 L596.4,290.3 L596.9,290.4 L597.4,290.6 L597.9,290.7 L598.4,290.8 L598.9,290.9 L599.4,291.0 L599.9,291.0 L600.4,291.1 L600.9,291.1 L601.5,291.1 Z" fill="#FBB698"/>
<path d="M548.4,235 V295.6" stroke="#000" stroke-width="1.6" stroke-dasharray="5.3 5.5" fill="none"/>
<path d="M552.2,291.1 H588.1" stroke="#000" stroke-width="1.9"/>
<path d="M555.9,291.1 H584.9" stroke="#000" stroke-width="4.1"/>
<circle cx="570.9" cy="291.1" r="4.7" fill="#000"/>
<text x="548.4" y="305.8" class="tk" text-anchor="middle" >0.0</text>
<text x="576.3" y="305.8" class="tk" text-anchor="middle" >0.2</text>
<text x="604.2" y="305.8" class="tk" text-anchor="middle" >0.4</text>
<path d="M627.4,290.7 L627.4,290.7 L628.0,290.7 L628.6,290.7 L629.2,290.6 L629.7,290.6 L630.3,290.5 L630.9,290.4 L631.5,290.4 L632.1,290.3 L632.7,290.1 L633.3,290.0 L633.8,289.9 L634.4,289.7 L635.0,289.6 L635.6,289.4 L636.2,289.2 L636.8,289.0 L637.4,288.8 L637.9,288.6 L638.5,288.4 L639.1,288.1 L639.7,287.9 L640.3,287.5 L640.9,286.9 L641.5,286.3 L642.0,285.6 L642.6,284.8 L643.2,283.8 L643.8,282.8 L644.4,281.7 L645.0,280.5 L645.6,279.1 L646.1,277.7 L646.7,275.7 L647.3,272.9 L647.9,269.7 L648.5,266.4 L649.1,263.3 L649.7,259.9 L650.2,256.6 L650.8,253.4 L651.4,250.8 L652.0,248.4 L652.6,246.2 L653.2,244.3 L653.8,242.7 L654.3,241.1 L654.9,239.7 L655.5,238.8 L656.1,238.8 L656.7,239.3 L657.3,240.2 L657.9,241.4 L658.4,242.7 L659.0,244.4 L659.6,246.6 L660.2,249.1 L660.8,251.6 L661.4,254.1 L662.0,256.5 L662.5,259.1 L663.1,261.7 L663.7,264.3 L664.3,267.2 L664.9,270.4 L665.5,273.6 L666.1,276.3 L666.6,278.0 L667.2,279.4 L667.8,280.7 L668.4,282.0 L669.0,283.1 L669.6,284.1 L670.2,285.1 L670.7,285.9 L671.3,286.6 L671.9,287.2 L672.5,287.6 L673.1,288.0 L673.7,288.1 L674.3,288.3 L674.8,288.4 L675.4,288.5 L676.0,288.7 L676.6,288.8 L677.2,288.9 L677.8,289.0 L678.4,289.1 L678.9,289.2 L679.5,289.3 L680.1,289.4 L680.7,289.5 L681.3,289.6 L681.9,289.7 L682.5,289.8 L683.0,289.9 L683.6,289.9 L684.2,290.0 L684.8,290.1 L685.4,290.1 L686.0,290.2 L686.6,290.2 L687.1,290.3 L687.7,290.3 L688.3,290.4 L688.9,290.4 L689.5,290.5 L690.1,290.5 L690.7,290.5 L691.2,290.6 L691.8,290.6 L692.4,290.6 L693.0,290.6 L693.6,290.7 L694.2,290.7 L694.8,290.7 L695.3,290.7 L695.9,290.7 L696.5,290.7 L697.1,290.7 Z" fill="#F47F80"/>
<path d="M646.9,246.2 V295.6" stroke="#000" stroke-width="1.6" stroke-dasharray="5.3 5.5" fill="none"/>
<path d="M641.8,290.7 H675.6" stroke="#000" stroke-width="1.9"/>
<path d="M644,290.7 H671.3" stroke="#000" stroke-width="4.1"/>
<circle cx="656.1" cy="290.7" r="4.7" fill="#000"/>
<text x="631.1" y="305.8" class="tk" text-anchor="middle" >−0.2</text>
<text x="646.9" y="305.8" class="tk" text-anchor="middle" >0</text>
<text x="664.4" y="305.8" class="tk" text-anchor="middle" >0.2</text>
<text x="679.9" y="305.8" class="tk" text-anchor="middle" >0.4</text>
<path d="M718.5,291.1 L718.5,291.1 L719.1,291.1 L719.6,291.1 L720.2,291.1 L720.8,291.0 L721.3,291.0 L721.9,290.9 L722.5,290.9 L723.0,290.8 L723.6,290.7 L724.2,290.7 L724.7,290.6 L725.3,290.5 L725.9,290.3 L726.4,290.2 L727.0,290.1 L727.6,289.9 L728.1,289.8 L728.7,289.6 L729.3,289.4 L729.8,289.3 L730.4,289.1 L731.0,288.9 L731.5,288.6 L732.1,288.4 L732.7,288.0 L733.2,287.3 L733.8,286.3 L734.4,285.2 L734.9,283.9 L735.5,282.5 L736.1,281.1 L736.7,279.6 L737.2,278.1 L737.8,276.5 L738.4,274.6 L738.9,272.4 L739.5,270.2 L740.1,268.1 L740.6,266.1 L741.2,264.4 L741.8,262.9 L742.3,261.5 L742.9,260.1 L743.5,258.8 L744.0,257.5 L744.6,256.3 L745.2,255.2 L745.7,254.0 L746.3,252.9 L746.9,251.7 L747.4,250.6 L748.0,249.4 L748.6,248.3 L749.1,247.1 L749.7,246.1 L750.3,245.0 L750.8,244.0 L751.4,243.1 L752.0,242.2 L752.5,241.2 L753.1,240.2 L753.7,239.3 L754.2,238.6 L754.8,238.2 L755.4,238.3 L755.9,238.9 L756.5,239.9 L757.1,241.1 L757.6,242.3 L758.2,243.7 L758.8,245.6 L759.3,247.7 L759.9,249.8 L760.5,251.7 L761.0,253.3 L761.6,254.8 L762.2,256.3 L762.7,257.7 L763.3,259.2 L763.9,260.7 L764.4,262.3 L765.0,264.0 L765.6,266.1 L766.1,268.6 L766.7,271.3 L767.3,274.0 L767.8,276.3 L768.4,277.9 L769.0,279.1 L769.6,280.2 L770.1,281.3 L770.7,282.3 L771.3,283.2 L771.8,284.1 L772.4,284.8 L773.0,285.6 L773.5,286.2 L774.1,286.8 L774.7,287.3 L775.2,287.8 L775.8,288.1 L776.4,288.4 L776.9,288.7 L777.5,288.9 L778.1,289.2 L778.6,289.4 L779.2,289.6 L779.8,289.9 L780.3,290.1 L780.9,290.2 L781.5,290.4 L782.0,290.6 L782.6,290.7 L783.2,290.8 L783.7,290.9 L784.3,291.0 L784.9,291.1 L785.4,291.1 L786.0,291.1 Z" fill="#E4475F"/>
<path d="M733.1,246.2 V295.6" stroke="#000" stroke-width="1.6" stroke-dasharray="5.3 5.5" fill="none"/>
<path d="M736.3,291.1 H772.7" stroke="#000" stroke-width="1.9"/>
<path d="M738.1,291.1 H769" stroke="#000" stroke-width="4.1"/>
<circle cx="753.4" cy="291.1" r="4.7" fill="#000"/>
<text x="733.1" y="305.8" class="tk" text-anchor="middle" >0.0</text>
<text x="755.9" y="305.8" class="tk" text-anchor="middle" >0.2</text>
<text x="778.6" y="305.8" class="tk" text-anchor="middle" >0.4</text>
<path d="M541.4,370.4 L541.4,370.4 L542.0,370.4 L542.5,370.3 L543.1,370.2 L543.7,370.1 L544.2,369.9 L544.8,369.7 L545.4,369.5 L545.9,369.3 L546.5,369.0 L547.1,368.8 L547.6,368.5 L548.2,368.2 L548.8,367.9 L549.4,367.5 L549.9,367.1 L550.5,366.6 L551.1,366.0 L551.6,365.3 L552.2,364.5 L552.8,363.7 L553.3,362.8 L553.9,361.9 L554.5,361.0 L555.0,360.0 L555.6,359.0 L556.2,357.9 L556.7,356.8 L557.3,355.5 L557.9,354.1 L558.4,352.5 L559.0,350.9 L559.6,349.2 L560.1,347.5 L560.7,345.9 L561.3,344.3 L561.9,342.8 L562.4,341.3 L563.0,339.8 L563.6,338.3 L564.1,336.8 L564.7,335.3 L565.3,333.8 L565.8,332.3 L566.4,330.8 L567.0,329.3 L567.5,327.6 L568.1,326.1 L568.7,324.6 L569.2,323.3 L569.8,322.3 L570.4,321.2 L570.9,320.2 L571.5,319.4 L572.1,318.8 L572.6,318.7 L573.2,319.0 L573.8,319.7 L574.3,320.6 L574.9,321.7 L575.5,322.8 L576.1,324.1 L576.6,325.8 L577.2,327.7 L577.8,329.6 L578.3,331.4 L578.9,333.0 L579.5,334.6 L580.0,336.2 L580.6,337.8 L581.2,339.3 L581.7,340.8 L582.3,342.3 L582.9,343.7 L583.4,345.1 L584.0,346.5 L584.6,347.8 L585.1,349.2 L585.7,350.5 L586.3,351.7 L586.8,353.0 L587.4,354.2 L588.0,355.3 L588.5,356.4 L589.1,357.5 L589.7,358.6 L590.3,359.7 L590.8,360.9 L591.4,362.0 L592.0,363.1 L592.5,364.2 L593.1,365.1 L593.7,366.0 L594.2,366.7 L594.8,367.3 L595.4,367.7 L595.9,367.9 L596.5,368.1 L597.1,368.3 L597.6,368.5 L598.2,368.7 L598.8,368.9 L599.3,369.0 L599.9,369.2 L600.5,369.3 L601.0,369.5 L601.6,369.6 L602.2,369.7 L602.8,369.8 L603.3,369.9 L603.9,370.0 L604.5,370.1 L605.0,370.2 L605.6,370.2 L606.2,370.3 L606.7,370.3 L607.3,370.4 L607.9,370.4 L608.4,370.4 L609.0,370.4 Z" fill="#A392BF"/>
<path d="M556.1,326.2 V374.5" stroke="#000" stroke-width="1.6" stroke-dasharray="5.3 5.5" fill="none"/>
<path d="M553.8,370.4 H592.9" stroke="#000" stroke-width="1.9"/>
<path d="M555.9,370.4 H589.2" stroke="#000" stroke-width="4.1"/>
<circle cx="572" cy="370.4" r="4.7" fill="#000"/>
<text x="556.1" y="385.8" class="tk" text-anchor="middle" >0.0</text>
<text x="574.1" y="385.8" class="tk" text-anchor="middle" >0.2</text>
<text x="591.8" y="385.8" class="tk" text-anchor="middle" >0.4</text>
<path d="M629.5,370.4 L629.5,370.4 L630.1,370.4 L630.6,370.4 L631.2,370.3 L631.8,370.3 L632.3,370.2 L632.9,370.1 L633.5,370.0 L634.0,369.9 L634.6,369.8 L635.2,369.6 L635.7,369.5 L636.3,369.3 L636.9,369.1 L637.5,368.9 L638.0,368.7 L638.6,368.5 L639.2,368.3 L639.7,368.1 L640.3,367.8 L640.9,367.6 L641.4,367.2 L642.0,366.7 L642.6,366.1 L643.1,365.5 L643.7,364.7 L644.3,363.9 L644.8,363.1 L645.4,362.1 L646.0,361.2 L646.5,360.1 L647.1,359.0 L647.7,357.9 L648.2,356.6 L648.8,354.9 L649.4,353.0 L650.0,350.9 L650.5,348.6 L651.1,346.4 L651.7,344.3 L652.2,342.0 L652.8,339.6 L653.4,337.2 L653.9,334.9 L654.5,332.8 L655.1,330.9 L655.6,329.1 L656.2,327.4 L656.8,325.9 L657.3,324.5 L657.9,323.5 L658.5,322.6 L659.0,321.7 L659.6,320.9 L660.2,320.2 L660.7,319.7 L661.3,319.4 L661.9,319.3 L662.4,319.5 L663.0,320.0 L663.6,320.6 L664.2,321.3 L664.7,322.2 L665.3,323.1 L665.9,324.2 L666.4,325.9 L667.0,328.0 L667.6,330.1 L668.1,332.2 L668.7,334.2 L669.3,336.3 L669.8,338.5 L670.4,340.7 L671.0,342.7 L671.5,344.6 L672.1,346.5 L672.7,348.2 L673.2,350.0 L673.8,351.7 L674.4,353.3 L674.9,354.8 L675.5,356.2 L676.1,357.4 L676.6,358.5 L677.2,359.6 L677.8,360.8 L678.4,361.8 L678.9,362.9 L679.5,363.9 L680.1,364.8 L680.6,365.6 L681.2,366.3 L681.8,366.9 L682.3,367.4 L682.9,367.8 L683.5,368.0 L684.0,368.2 L684.6,368.4 L685.2,368.5 L685.7,368.7 L686.3,368.9 L686.9,369.0 L687.4,369.2 L688.0,369.3 L688.6,369.4 L689.1,369.6 L689.7,369.7 L690.3,369.8 L690.9,369.9 L691.4,370.0 L692.0,370.0 L692.6,370.1 L693.1,370.2 L693.7,370.2 L694.3,370.3 L694.8,370.3 L695.4,370.4 L696.0,370.4 L696.5,370.4 L697.1,370.4 Z" fill="#6E6390"/>
<path d="M664.7,315.5 V372" stroke="#000" stroke-width="1.6" stroke-dasharray="5.3 5.5" fill="none"/>
<path d="M645.6,370.4 H678.3" stroke="#000" stroke-width="1.9"/>
<path d="M648.3,370.4 H675.4" stroke="#000" stroke-width="4.1"/>
<circle cx="661.9" cy="370.4" r="4.7" fill="#000"/>
<text x="638.6" y="385.6" class="tk" text-anchor="middle" >−2</text>
<text x="653.1" y="385.6" class="tk" text-anchor="middle" >−1</text>
<text x="664.7" y="385.6" class="tk" text-anchor="middle" >0</text>
<text x="677.8" y="385.6" class="tk" text-anchor="middle" >1</text>
<text x="690.6" y="385.6" class="tk" text-anchor="middle" >2</text>
<path d="M722.9,369.4 L722.9,369.4 L723.4,369.4 L723.9,369.4 L724.4,369.3 L724.9,369.3 L725.4,369.2 L725.9,369.1 L726.4,369.0 L726.9,368.9 L727.4,368.8 L728.0,368.6 L728.5,368.5 L729.0,368.3 L729.5,368.2 L730.0,368.0 L730.5,367.8 L731.0,367.6 L731.5,367.4 L732.0,367.1 L732.5,366.9 L733.0,366.6 L733.5,366.2 L734.0,365.7 L734.5,365.0 L735.0,364.3 L735.5,363.5 L736.0,362.6 L736.5,361.6 L737.0,360.5 L737.5,359.4 L738.1,358.3 L738.6,357.2 L739.1,355.9 L739.6,354.4 L740.1,352.7 L740.6,350.7 L741.1,348.7 L741.6,346.8 L742.1,344.9 L742.6,343.1 L743.1,341.5 L743.6,339.8 L744.1,338.1 L744.6,336.5 L745.1,334.9 L745.6,333.4 L746.1,332.0 L746.6,330.6 L747.1,329.4 L747.6,328.1 L748.2,327.0 L748.7,325.8 L749.2,324.7 L749.7,323.6 L750.2,322.6 L750.7,321.4 L751.2,320.1 L751.7,319.0 L752.2,318.3 L752.7,318.3 L753.2,319.1 L753.7,320.2 L754.2,321.6 L754.7,322.9 L755.2,324.5 L755.7,326.3 L756.2,328.2 L756.7,330.1 L757.2,331.8 L757.7,333.5 L758.3,335.2 L758.8,336.8 L759.3,338.5 L759.8,340.1 L760.3,341.6 L760.8,343.1 L761.3,344.6 L761.8,346.1 L762.3,347.6 L762.8,349.0 L763.3,350.5 L763.8,351.8 L764.3,353.2 L764.8,354.4 L765.3,355.6 L765.8,356.7 L766.3,357.7 L766.8,358.7 L767.3,359.8 L767.8,360.8 L768.4,361.8 L768.9,362.7 L769.4,363.6 L769.9,364.4 L770.4,365.2 L770.9,365.8 L771.4,366.3 L771.9,366.7 L772.4,366.9 L772.9,367.1 L773.4,367.3 L773.9,367.5 L774.4,367.7 L774.9,367.9 L775.4,368.1 L775.9,368.2 L776.4,368.4 L776.9,368.5 L777.4,368.7 L777.9,368.8 L778.5,368.9 L779.0,369.0 L779.5,369.1 L780.0,369.2 L780.5,369.2 L781.0,369.3 L781.5,369.3 L782.0,369.4 L782.5,369.4 L783.0,369.4 Z" fill="#3E314D"/>
<path d="M734.5,325.7 V374" stroke="#000" stroke-width="1.6" stroke-dasharray="5.3 5.5" fill="none"/>
<path d="M736.8,369.4 H767.4" stroke="#000" stroke-width="1.9"/>
<path d="M740,369.4 H764.2" stroke="#000" stroke-width="4.1"/>
<circle cx="751.6" cy="369.4" r="4.7" fill="#000"/>
<text x="734.5" y="383.6" class="tk" text-anchor="middle" >0.0</text>
<text x="755.6" y="383.6" class="tk" text-anchor="middle" >0.2</text>
<text x="776.7" y="383.6" class="tk" text-anchor="middle" >0.4</text>
<path d="M541.5,451.5 L541.5,451.5 L542.1,451.5 L542.7,451.4 L543.2,451.4 L543.8,451.3 L544.4,451.2 L545.0,451.1 L545.5,450.9 L546.1,450.8 L546.7,450.6 L547.3,450.4 L547.8,450.2 L548.4,450.0 L549.0,449.8 L549.6,449.5 L550.1,449.3 L550.7,449.0 L551.3,448.8 L551.9,448.5 L552.5,448.1 L553.0,447.7 L553.6,447.2 L554.2,446.6 L554.8,446.1 L555.3,445.4 L555.9,444.8 L556.5,444.1 L557.1,443.4 L557.6,442.6 L558.2,441.8 L558.8,441.0 L559.4,440.2 L559.9,439.4 L560.5,438.6 L561.1,437.7 L561.7,436.7 L562.3,435.7 L562.8,434.6 L563.4,433.4 L564.0,432.2 L564.6,430.9 L565.1,429.6 L565.7,428.4 L566.3,427.1 L566.9,425.8 L567.4,424.6 L568.0,423.3 L568.6,422.1 L569.2,420.8 L569.7,419.5 L570.3,418.2 L570.9,416.9 L571.5,415.6 L572.1,414.3 L572.6,413.0 L573.2,411.7 L573.8,410.3 L574.4,408.9 L574.9,407.5 L575.5,406.1 L576.1,404.8 L576.7,403.6 L577.2,402.4 L577.8,401.2 L578.4,399.9 L579.0,399.0 L579.5,398.7 L580.1,399.1 L580.7,400.1 L581.3,401.4 L581.9,402.8 L582.4,404.4 L583.0,406.5 L583.6,408.7 L584.2,410.8 L584.7,412.6 L585.3,414.2 L585.9,415.8 L586.5,417.2 L587.0,418.7 L587.6,420.1 L588.2,421.4 L588.8,422.8 L589.3,424.2 L589.9,425.7 L590.5,427.2 L591.1,428.7 L591.7,430.3 L592.2,431.8 L592.8,433.4 L593.4,434.8 L594.0,436.2 L594.5,437.4 L595.1,438.5 L595.7,439.5 L596.3,440.6 L596.8,441.6 L597.4,442.6 L598.0,443.5 L598.6,444.4 L599.1,445.3 L599.7,446.1 L600.3,446.8 L600.9,447.4 L601.5,448.0 L602.0,448.5 L602.6,448.9 L603.2,449.2 L603.8,449.5 L604.3,449.8 L604.9,450.1 L605.5,450.3 L606.1,450.6 L606.6,450.8 L607.2,451.0 L607.8,451.2 L608.4,451.3 L608.9,451.4 L609.5,451.5 L610.1,451.5 Z" fill="#1F3368"/>
<path d="M594,395.5 V456.1" stroke="#000" stroke-width="1.6" stroke-dasharray="5.3 5.5" fill="none"/>
<path d="M555.9,451.5 H597.2" stroke="#000" stroke-width="1.9"/>
<path d="M559.9,451.5 H594" stroke="#000" stroke-width="4.1"/>
<circle cx="577.9" cy="451.5" r="4.7" fill="#000"/>
<text x="554.8" y="465.8" class="tk" text-anchor="middle" >−0.8</text>
<text x="578.4" y="465.8" class="tk" text-anchor="middle" >−0.4</text>
<text x="596.7" y="465.8" class="tk" text-anchor="middle" >0.0</text>
<path d="M716.4,451.5 L716.4,451.5 L717.0,451.5 L717.6,451.5 L718.1,451.4 L718.7,451.4 L719.3,451.3 L719.9,451.2 L720.4,451.2 L721.0,451.1 L721.6,450.9 L722.2,450.8 L722.8,450.7 L723.3,450.5 L723.9,450.4 L724.5,450.2 L725.1,450.0 L725.6,449.8 L726.2,449.6 L726.8,449.4 L727.4,449.2 L727.9,449.0 L728.5,448.8 L729.1,448.4 L729.7,448.0 L730.3,447.5 L730.8,446.9 L731.4,446.2 L732.0,445.5 L732.6,444.6 L733.1,443.8 L733.7,442.8 L734.3,441.9 L734.9,440.9 L735.5,439.8 L736.0,438.8 L736.6,437.7 L737.2,436.4 L737.8,435.0 L738.3,433.4 L738.9,431.7 L739.5,430.0 L740.1,428.2 L740.6,426.5 L741.2,424.7 L741.8,423.0 L742.4,421.1 L743.0,419.2 L743.5,417.3 L744.1,415.4 L744.7,413.5 L745.3,411.7 L745.8,409.8 L746.4,407.7 L747.0,405.8 L747.6,404.1 L748.2,402.8 L748.7,401.7 L749.3,400.7 L749.9,399.8 L750.5,399.1 L751.0,398.7 L751.6,398.8 L752.2,399.2 L752.8,399.9 L753.3,400.8 L753.9,401.8 L754.5,402.9 L755.1,404.4 L755.7,406.3 L756.2,408.4 L756.8,410.6 L757.4,412.5 L758.0,414.4 L758.5,416.2 L759.1,418.1 L759.7,419.9 L760.3,421.7 L760.9,423.3 L761.4,424.9 L762.0,426.4 L762.6,427.9 L763.2,429.3 L763.7,430.7 L764.3,432.1 L764.9,433.4 L765.5,434.6 L766.0,435.8 L766.6,436.9 L767.2,438.0 L767.8,438.9 L768.4,439.9 L768.9,440.9 L769.5,441.9 L770.1,442.8 L770.7,443.7 L771.2,444.6 L771.8,445.4 L772.4,446.2 L773.0,446.9 L773.6,447.5 L774.1,448.0 L774.7,448.5 L775.3,448.8 L775.9,449.1 L776.4,449.3 L777.0,449.6 L777.6,449.8 L778.2,450.0 L778.7,450.2 L779.3,450.4 L779.9,450.6 L780.5,450.8 L781.1,451.0 L781.6,451.1 L782.2,451.2 L782.8,451.3 L783.4,451.4 L783.9,451.5 L784.5,451.5 L785.1,451.5 Z" fill="#1B91A9"/>
<path d="M741.1,398.5 V456.1" stroke="#000" stroke-width="1.6" stroke-dasharray="5.3 5.5" fill="none"/>
<path d="M733.1,451.5 H770.6" stroke="#000" stroke-width="1.9"/>
<path d="M736.3,451.5 H767.9" stroke="#000" stroke-width="4.1"/>
<circle cx="751.6" cy="451.5" r="4.7" fill="#000"/>
<text x="726.1" y="465.8" class="tk" text-anchor="middle" >−0.2</text>
<text x="741.1" y="465.8" class="tk" text-anchor="middle" >0</text>
<text x="755.6" y="465.8" class="tk" text-anchor="middle" >0.2</text>
<text x="771.7" y="465.8" class="tk" text-anchor="middle" >0.4</text>
<text x="609.5" y="83.5" class="mn" text-anchor="end" >Mean: 0.24</text>
<text x="609.5" y="99.1" class="mn" text-anchor="end" >n = 8</text>
<text x="696.0" y="83.3" class="mn" text-anchor="end" >Mean: −0.1</text>
<text x="699.7" y="95.1" class="mn" text-anchor="end" >n = 20</text>
<text x="785.1" y="82.0" class="mb" text-anchor="end" >Mean: 0.5</text>
<text x="787.7" y="94.0" class="mn" text-anchor="end" >n = 60</text>
<text x="785.6" y="160.8" class="mn" text-anchor="end" >Mean: 0.02</text>
<text x="785.6" y="176.3" class="mn" text-anchor="end" >n = 6</text>
<text x="610.1" y="240.9" class="mb" text-anchor="end" >Mean: 0.16</text>
<text x="611.4" y="252.7" class="mn" text-anchor="end" >n = 101</text>
<text x="696.5" y="240.9" class="mn" text-anchor="end" >Mean: 0.12</text>
<text x="692.2" y="253.8" class="mn" text-anchor="end" >n = 28</text>
<text x="785.6" y="240.9" class="mb" text-anchor="end" >Mean: 0.18</text>
<text x="786.7" y="253.8" class="mn" text-anchor="end" >n = 108</text>
<text x="609.0" y="320.4" class="mn" text-anchor="end" >Mean: 0.18</text>
<text x="610.1" y="334.3" class="mn" text-anchor="end" >n = 65</text>
<text x="696.5" y="320.9" class="mn" text-anchor="end" >Mean: −0.22</text>
<text x="693.8" y="334.3" class="mn" text-anchor="end" >n = 6</text>
<text x="782.4" y="320.4" class="mb" text-anchor="end" >Mean: 0.16</text>
<text x="787.2" y="332.2" class="mn" text-anchor="end" >n = 62</text>
<text x="536.6" y="400.4" class="mn" text-anchor="start" >Mean: −0.36</text>
<text x="536.9" y="413.2" class="mn" text-anchor="start" >n = 43</text>
<text x="784.5" y="400.4" class="mn" text-anchor="end" >Mean: 0.15</text>
<text x="787.0" y="412.2" class="mn" text-anchor="end" >n = 46</text>
<path d="M452.2,493 H467.5" stroke="#FBB698" stroke-width="3.4"/>
<text x="470.6" y="497.0" class="lg" text-anchor="start" >AGB-SBD</text>
<path d="M541,492.3 H557" stroke="#F47F80" stroke-width="3.4"/>
<text x="559.9" y="496.3" class="lg" text-anchor="start" >AGB-SBA</text>
<path d="M627,492.3 H642.8" stroke="#E4475F" stroke-width="3.4"/>
<text x="645.5" y="496.3" class="lg" text-anchor="start" >AGB-SBB</text>
<path d="M452.2,515.6 H467.5" stroke="#A392BF" stroke-width="3.4"/>
<text x="470.6" y="519.6" class="lg" text-anchor="start" >AGD-SBD</text>
<path d="M541,515 H557" stroke="#6E6390" stroke-width="3.4"/>
<text x="559.9" y="519.0" class="lg" text-anchor="start" >AGD-SBA</text>
<path d="M627,515 H642.8" stroke="#3E314D" stroke-width="3.4"/>
<text x="645.5" y="519.0" class="lg" text-anchor="start" >AGD-SBB</text>
<path d="M452.2,534.8 H467.5" stroke="#1F3368" stroke-width="3.4"/>
<text x="470.6" y="538.8" class="lg" text-anchor="start" >BGB-SBD</text>
<path d="M541,534.8 H557" stroke="#1B91A9" stroke-width="3.4"/>
<text x="559.9" y="538.8" class="lg" text-anchor="start" >BGB-SBB</text>
</g>
<g id="caption" font-size="12.2" fill="#000" stroke="#000" stroke-width="0.22" style="font-family:'Liberation Sans', sans-serif">
<text class="cap" x="5.5" y="591.30" textLength="422.0" lengthAdjust="spacingAndGlyphs"><tspan font-weight="bold">Fig. 4 | Significant linkages between the responses of plant and belowground</tspan></text>
<text class="cap" x="5.5" y="607.82" textLength="415.0" lengthAdjust="spacingAndGlyphs"><tspan font-weight="bold">soil biota under specific GCFs and relationship types. a</tspan> Positive relationships</text>
<text class="cap" x="5.5" y="624.34" textLength="412.5" lengthAdjust="spacingAndGlyphs">between the responses of the plants and soil biota under CO<tspan font-size="8.5" dy="2.5">2</tspan><tspan dy="-2.5"> in forests and (</tspan><tspan font-weight="bold">b</tspan>)</text>
<text class="cap" x="5.5" y="640.86" textLength="424.5" lengthAdjust="spacingAndGlyphs">under PRE+ in grasslands. Point size indicates the weight of the sample size. <tspan font-style="italic">P</tspan> values</text>
<text class="cap" x="5.5" y="657.38" textLength="420.3" lengthAdjust="spacingAndGlyphs">represent the statistical significance of coefficients by the two-sided <tspan font-style="italic">z</tspan>-test, and <tspan font-style="italic">n</tspan></text>
<text class="cap" x="5.5" y="673.90" textLength="415.8" lengthAdjust="spacingAndGlyphs">represents study observations, respectively. The solid lines indicate a significant</text>
<text class="cap" x="5.5" y="690.42" textLength="418.8" lengthAdjust="spacingAndGlyphs">difference (<tspan font-style="italic">P</tspan> &lt; 0.05) from zero for the coupling coefficient, and the dashed lines</text>
<text class="cap" x="5.5" y="706.94" textLength="395.7" lengthAdjust="spacingAndGlyphs">indicate non-significance. Black lines show overall relationships between the</text>
<text class="cap" x="5.5" y="723.46" textLength="394.5" lengthAdjust="spacingAndGlyphs">responses of the aboveground and belowground compartments, the shades</text>
<text class="cap" x="5.5" y="739.98" textLength="424.5" lengthAdjust="spacingAndGlyphs">represent 95% confidence intervals. Other colored lines show different relationship</text>
<text class="cap" x="449.3" y="591.30" textLength="403.4" lengthAdjust="spacingAndGlyphs">types between corresponding variables of plants and soil biota. The posterior</text>
<text class="cap" x="449.3" y="607.82" textLength="379.2" lengthAdjust="spacingAndGlyphs">distribution of the coefficient is based on the Bayesian hierarchical meta-</text>
<text class="cap" x="449.3" y="624.34" textLength="425.5" lengthAdjust="spacingAndGlyphs">regression. The gray distribution indicates the posterior coefficient distribution of</text>
<text class="cap" x="449.3" y="640.86" textLength="421.0" lengthAdjust="spacingAndGlyphs">the overall relationship. <tspan font-weight="bold">c</tspan> Different colored posterior distributions represent cor-</text>
<text class="cap" x="449.3" y="657.38" textLength="418.0" lengthAdjust="spacingAndGlyphs">responding relationship types between plant aboveground biomass (AGB), plant</text>
<text class="cap" x="449.3" y="673.90" textLength="421.7" lengthAdjust="spacingAndGlyphs">belowground biomass (BGB), plant diversity (AGD) and soil biota diversity (SBD),</text>
<text class="cap" x="449.3" y="690.42" textLength="420.5" lengthAdjust="spacingAndGlyphs">soil biota abundance (SBA), soil biota biomass (SBB). Points indicate the mean of</text>
<text class="cap" x="449.3" y="706.94" textLength="421.0" lengthAdjust="spacingAndGlyphs">coefficients, and thick and thin bars represent 95% and 90% confidence intervals,</text>
<text class="cap" x="449.3" y="723.46" textLength="64.3" lengthAdjust="spacingAndGlyphs">respectively.</text>
</g>
</svg></body></html>
